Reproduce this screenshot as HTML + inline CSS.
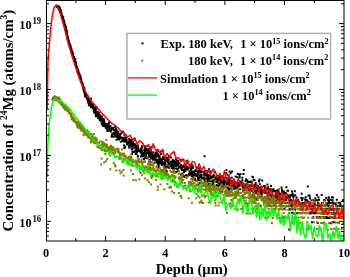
<!DOCTYPE html>
<html><head><meta charset="utf-8"><style>
html,body{margin:0;padding:0;background:#fff;width:350px;height:277px;overflow:hidden}
svg{display:block;will-change:transform}
</style></head><body>
<svg width="350" height="277" viewBox="0 0 350 277" xmlns="http://www.w3.org/2000/svg">

<defs><clipPath id="pc"><rect x="46" y="0" width="298" height="241"/></clipPath></defs>
<g clip-path="url(#pc)">
<g fill="#000"><path d="M56.1 5.3h2v2h-2zM56.1 5.9h2v2h-2zM56.1 4.7h2v2h-2zM56.2 5.1h2v2h-2zM56.5 5.9h2v2h-2zM57 6.4h2v2h-2zM57.1 5.5h2v2h-2zM57.2 5.7h2v2h-2zM57.5 5.7h2v2h-2zM57.6 6.3h2v2h-2zM57.6 5.6h2v2h-2zM57.8 6h2v2h-2zM57.9 8.8h2v2h-2zM57.9 6.8h2v2h-2zM58 7h2v2h-2zM58.3 8.4h2v2h-2zM58.5 8h2v2h-2zM58.6 9.1h2v2h-2zM58.7 6.4h2v2h-2zM58.8 8h2v2h-2zM59 7.8h2v2h-2zM59 10h2v2h-2zM59 9.1h2v2h-2zM59.1 10.2h2v2h-2zM59.1 9.4h2v2h-2zM59.2 9.8h2v2h-2zM59.2 10.3h2v2h-2zM59.4 11h2v2h-2zM59.4 11.5h2v2h-2zM59.5 10.5h2v2h-2zM59.5 9.9h2v2h-2zM59.8 10.3h2v2h-2zM60.1 11.8h2v2h-2zM60.2 12.6h2v2h-2zM60.3 13.3h2v2h-2zM60.6 13.6h2v2h-2zM60.7 13.9h2v2h-2zM61.1 14.5h2v2h-2zM61.2 17.2h2v2h-2zM61.3 15.9h2v2h-2zM61.4 15.8h2v2h-2zM61.6 17.3h2v2h-2zM61.6 18.1h2v2h-2zM61.6 16.2h2v2h-2zM62 19.6h2v2h-2zM62.1 18.9h2v2h-2zM62.2 18.5h2v2h-2zM62.3 19.7h2v2h-2zM62.5 19.6h2v2h-2zM62.6 21.2h2v2h-2zM63.3 21.4h2v2h-2zM63.6 23.8h2v2h-2zM63.7 23.1h2v2h-2zM63.8 23.9h2v2h-2zM64 24.6h2v2h-2zM64.1 25.3h2v2h-2zM64.3 26.5h2v2h-2zM64.3 25.8h2v2h-2zM64.4 26.8h2v2h-2zM64.5 25.4h2v2h-2zM64.6 27h2v2h-2zM64.6 27.5h2v2h-2zM64.9 27.6h2v2h-2zM65.1 29.3h2v2h-2zM65.3 29.5h2v2h-2zM65.4 29.7h2v2h-2zM65.5 32h2v2h-2zM65.7 31h2v2h-2zM65.8 31h2v2h-2zM65.8 32h2v2h-2zM65.9 33.5h2v2h-2zM66 31.8h2v2h-2zM66 33.8h2v2h-2zM66.2 33.2h2v2h-2zM66.7 36.6h2v2h-2zM66.8 38h2v2h-2zM66.9 36.3h2v2h-2zM66.9 37.8h2v2h-2zM67.2 39.4h2v2h-2zM67.3 39h2v2h-2zM67.4 40.1h2v2h-2zM67.5 39.5h2v2h-2zM67.6 39.6h2v2h-2zM67.8 41.2h2v2h-2zM67.9 41.1h2v2h-2zM68 42.1h2v2h-2zM68.1 41.6h2v2h-2zM68.6 43h2v2h-2zM68.7 42.4h2v2h-2zM68.8 44.5h2v2h-2zM68.8 45.5h2v2h-2zM68.9 45.2h2v2h-2zM68.9 44.9h2v2h-2zM69 46.9h2v2h-2zM69.1 45.3h2v2h-2zM69.2 44.6h2v2h-2zM69.5 47h2v2h-2zM69.6 46h2v2h-2zM70 47.7h2v2h-2zM70.1 48.2h2v2h-2zM70.1 49.1h2v2h-2zM70.5 49.7h2v2h-2zM70.6 49.3h2v2h-2zM70.8 51h2v2h-2zM70.9 51.7h2v2h-2zM70.9 50.5h2v2h-2zM70.9 50.4h2v2h-2zM71 51.4h2v2h-2zM71.1 52.4h2v2h-2zM71.5 52.4h2v2h-2zM71.7 54.5h2v2h-2zM71.8 52.5h2v2h-2zM72.2 55.6h2v2h-2zM72.3 55.8h2v2h-2zM72.8 56.1h2v2h-2zM73.2 57.4h2v2h-2zM73.4 59h2v2h-2zM73.4 59.2h2v2h-2zM73.5 59.6h2v2h-2zM73.7 59.6h2v2h-2zM74.2 62h2v2h-2zM74.3 60.7h2v2h-2zM74.4 61.2h2v2h-2zM74.4 63.3h2v2h-2zM74.6 62.3h2v2h-2zM74.7 62.9h2v2h-2zM75.1 64.2h2v2h-2zM75.2 64.8h2v2h-2zM75.8 65.8h2v2h-2zM75.9 67.2h2v2h-2zM77.1 70.2h2v2h-2zM77.4 71.7h2v2h-2zM77.5 70.7h2v2h-2zM77.5 72.6h2v2h-2zM77.5 71.7h2v2h-2zM77.6 72h2v2h-2zM78.1 73.6h2v2h-2zM78.1 72.7h2v2h-2zM78.3 74.8h2v2h-2zM78.3 74.3h2v2h-2zM78.3 73.5h2v2h-2zM78.7 74.5h2v2h-2zM78.7 75.3h2v2h-2zM78.8 76.2h2v2h-2zM79 76.8h2v2h-2zM79 76.8h2v2h-2zM79.5 77.3h2v2h-2zM79.7 77.7h2v2h-2zM79.9 79.7h2v2h-2zM80 79.2h2v2h-2zM80.1 78.3h2v2h-2zM80.1 78.2h2v2h-2zM80.3 79.3h2v2h-2zM80.6 81.9h2v2h-2zM81 82.8h2v2h-2zM81.1 83.3h2v2h-2zM81.3 83h2v2h-2zM81.3 83.1h2v2h-2zM81.7 83.7h2v2h-2zM81.8 85.7h2v2h-2zM82 84.6h2v2h-2zM82.5 86.2h2v2h-2zM82.6 88h2v2h-2zM83 89.8h2v2h-2zM83 88.9h2v2h-2zM83.1 88.8h2v2h-2zM83.5 88.1h2v2h-2zM83.7 91.8h2v2h-2zM83.7 91.8h2v2h-2zM83.7 91.1h2v2h-2zM84 94.2h2v2h-2zM84.1 95.2h2v2h-2zM84.2 93.2h2v2h-2zM84.4 92.8h2v2h-2zM84.4 94.9h2v2h-2zM84.5 93.6h2v2h-2zM84.5 92.1h2v2h-2zM84.6 95.6h2v2h-2zM84.9 94.6h2v2h-2zM85 94.4h2v2h-2zM85.4 96.1h2v2h-2zM86 97.5h2v2h-2zM86.2 97.6h2v2h-2zM86.4 97.8h2v2h-2zM86.7 98.4h2v2h-2zM86.8 99.9h2v2h-2zM87.2 97.6h2v2h-2zM87.2 101.4h2v2h-2zM87.4 101.2h2v2h-2zM87.8 102.7h2v2h-2zM87.9 104.3h2v2h-2zM87.9 102.3h2v2h-2zM88.1 101.6h2v2h-2zM88.2 101.4h2v2h-2zM88.4 99.8h2v2h-2zM88.5 99.3h2v2h-2zM88.5 100.1h2v2h-2zM88.8 104h2v2h-2zM88.9 100.7h2v2h-2zM89 103.7h2v2h-2zM89.1 99.9h2v2h-2zM89.4 101.4h2v2h-2zM89.9 104.4h2v2h-2zM89.9 104.1h2v2h-2zM90 97.8h2v2h-2zM90.1 106.3h2v2h-2zM90.5 106.3h2v2h-2zM90.5 104.4h2v2h-2zM90.6 102.8h2v2h-2zM90.8 104.6h2v2h-2zM92 106.9h2v2h-2zM92.2 103.9h2v2h-2zM92.5 106.8h2v2h-2zM92.6 107.2h2v2h-2zM92.7 106.4h2v2h-2zM92.8 109.5h2v2h-2zM92.9 106.9h2v2h-2zM93 109.1h2v2h-2zM93.1 111.5h2v2h-2zM93.2 106.3h2v2h-2zM93.6 110.4h2v2h-2zM93.8 107.2h2v2h-2zM93.9 110.6h2v2h-2zM94.3 107.7h2v2h-2zM94.6 111.3h2v2h-2zM94.6 112.3h2v2h-2zM94.7 109.5h2v2h-2zM94.8 113.1h2v2h-2zM94.9 115.3h2v2h-2zM94.9 114.5h2v2h-2zM95.1 112.2h2v2h-2zM95.2 114.2h2v2h-2zM95.5 105.9h2v2h-2zM95.6 112.1h2v2h-2zM96 107.2h2v2h-2zM96.3 113.9h2v2h-2zM96.4 113.9h2v2h-2zM96.5 115.6h2v2h-2zM96.6 113.4h2v2h-2zM96.7 112.8h2v2h-2zM96.8 110.7h2v2h-2zM96.8 112.9h2v2h-2zM96.9 114.3h2v2h-2zM97.3 116.9h2v2h-2zM97.8 112h2v2h-2zM97.9 117.3h2v2h-2zM97.9 114.4h2v2h-2zM98.3 117.2h2v2h-2zM98.7 116h2v2h-2zM98.7 114.4h2v2h-2zM98.8 113.8h2v2h-2zM98.8 118.9h2v2h-2zM98.8 115.4h2v2h-2zM99.2 116.9h2v2h-2zM99.4 117.5h2v2h-2zM99.8 115.2h2v2h-2zM100 118.7h2v2h-2zM100.1 119.8h2v2h-2zM100.5 119.2h2v2h-2zM100.5 120.4h2v2h-2zM100.6 119.1h2v2h-2zM100.8 122.8h2v2h-2zM100.8 115.4h2v2h-2zM101 123.2h2v2h-2zM101.1 117.7h2v2h-2zM101.2 117.9h2v2h-2zM101.4 118h2v2h-2zM101.9 123.9h2v2h-2zM101.9 119.2h2v2h-2zM102.1 123.7h2v2h-2zM102.1 119.8h2v2h-2zM102.2 125.1h2v2h-2zM102.4 121.7h2v2h-2zM102.6 121.1h2v2h-2zM102.7 121.1h2v2h-2zM102.7 118h2v2h-2zM102.7 119.5h2v2h-2zM103 119.8h2v2h-2zM103.1 119.7h2v2h-2zM103.1 123.9h2v2h-2zM103.2 125.1h2v2h-2zM103.6 125.3h2v2h-2zM103.6 121.5h2v2h-2zM103.8 123h2v2h-2zM103.8 123.2h2v2h-2zM104.7 123.6h2v2h-2zM104.8 124.6h2v2h-2zM104.8 125.6h2v2h-2zM104.9 127.1h2v2h-2zM105 123.5h2v2h-2zM105.1 123.2h2v2h-2zM105.5 126.4h2v2h-2zM105.7 126.1h2v2h-2zM106.3 128.7h2v2h-2zM106.5 130.1h2v2h-2zM106.6 129.6h2v2h-2zM106.7 123.1h2v2h-2zM106.8 124.4h2v2h-2zM106.9 126.6h2v2h-2zM107.3 125.9h2v2h-2zM107.6 126.4h2v2h-2zM107.7 123h2v2h-2zM107.7 124.5h2v2h-2zM108 127.7h2v2h-2zM108.1 121.5h2v2h-2zM108.3 129.6h2v2h-2zM108.7 126.1h2v2h-2zM109 125.3h2v2h-2zM109.2 128.9h2v2h-2zM109.6 128.8h2v2h-2zM109.6 125.2h2v2h-2zM109.9 130.1h2v2h-2zM109.9 130.6h2v2h-2zM110.2 128h2v2h-2zM110.6 135.4h2v2h-2zM110.7 135.8h2v2h-2zM110.8 127.3h2v2h-2zM111 135.7h2v2h-2zM111.1 133.5h2v2h-2zM111.3 128.2h2v2h-2zM111.5 127.2h2v2h-2zM111.8 132.8h2v2h-2zM112.3 126.9h2v2h-2zM112.8 131.9h2v2h-2zM112.8 135.4h2v2h-2zM112.9 129.3h2v2h-2zM113 132.7h2v2h-2zM113.3 132.7h2v2h-2zM113.4 131.8h2v2h-2zM113.6 132.5h2v2h-2zM113.9 125.4h2v2h-2zM114 134h2v2h-2zM114.2 132.9h2v2h-2zM114.5 129.4h2v2h-2zM114.5 132.7h2v2h-2zM114.6 134.1h2v2h-2zM114.7 131.3h2v2h-2zM114.8 127.4h2v2h-2zM114.8 131h2v2h-2zM114.9 135.5h2v2h-2zM115 128.9h2v2h-2zM115 133.5h2v2h-2zM115 130.4h2v2h-2zM115.2 132.7h2v2h-2zM115.4 131.3h2v2h-2zM115.6 138.8h2v2h-2zM115.8 129.5h2v2h-2zM116.2 133.8h2v2h-2zM116.2 136h2v2h-2zM116.2 134.1h2v2h-2zM116.3 133.2h2v2h-2zM116.3 132.8h2v2h-2zM116.6 134.6h2v2h-2zM117.1 137.6h2v2h-2zM117.2 133.3h2v2h-2zM117.3 130.8h2v2h-2zM117.5 137.9h2v2h-2zM117.9 136.1h2v2h-2zM117.9 134.3h2v2h-2zM118 138.5h2v2h-2zM118.2 136.3h2v2h-2zM118.2 136.1h2v2h-2zM118.5 133.2h2v2h-2zM118.5 135.3h2v2h-2zM118.7 137.4h2v2h-2zM119 136.7h2v2h-2zM119 134.5h2v2h-2zM119.3 137.5h2v2h-2zM119.8 132.8h2v2h-2zM119.9 140.8h2v2h-2zM120.5 136.5h2v2h-2zM121.2 139.8h2v2h-2zM121.3 136.8h2v2h-2zM121.4 131.4h2v2h-2zM121.6 139.9h2v2h-2zM121.6 137.6h2v2h-2zM122 139.2h2v2h-2zM122.7 140.6h2v2h-2zM122.9 136.7h2v2h-2zM123 140.4h2v2h-2zM123.1 138.1h2v2h-2zM123.1 144.2h2v2h-2zM123.2 137h2v2h-2zM123.2 137.2h2v2h-2zM123.3 140.6h2v2h-2zM123.3 146.9h2v2h-2zM123.4 133.7h2v2h-2zM123.7 145.6h2v2h-2zM123.8 140.1h2v2h-2zM123.9 140.2h2v2h-2zM124.1 146.3h2v2h-2zM124.2 136.9h2v2h-2zM124.5 136.5h2v2h-2zM124.5 139.3h2v2h-2zM124.7 137.6h2v2h-2zM124.9 140.5h2v2h-2zM124.9 139.8h2v2h-2zM124.9 134.3h2v2h-2zM125.5 138.9h2v2h-2zM125.7 141.5h2v2h-2zM125.7 136.6h2v2h-2zM126 143.5h2v2h-2zM126.3 141.9h2v2h-2zM126.6 141.3h2v2h-2zM127.4 142.2h2v2h-2zM127.5 140.7h2v2h-2zM127.9 144.6h2v2h-2zM127.9 140.2h2v2h-2zM128.3 138.1h2v2h-2zM128.3 146.5h2v2h-2zM128.3 146.7h2v2h-2zM128.4 146.2h2v2h-2zM129.1 139.8h2v2h-2zM129.2 141.4h2v2h-2zM129.3 143.3h2v2h-2zM129.6 144.2h2v2h-2zM129.7 144.2h2v2h-2zM129.8 141.1h2v2h-2zM130.2 142.5h2v2h-2zM130.2 140.6h2v2h-2zM130.5 139h2v2h-2zM130.5 145.6h2v2h-2zM130.7 148.3h2v2h-2zM130.8 143.9h2v2h-2zM131 153h2v2h-2zM131.3 150.7h2v2h-2zM131.4 142.8h2v2h-2zM131.4 142.9h2v2h-2zM131.4 142.6h2v2h-2zM131.6 145h2v2h-2zM131.6 145.7h2v2h-2zM131.7 147.1h2v2h-2zM131.8 147.2h2v2h-2zM131.9 145h2v2h-2zM131.9 140.9h2v2h-2zM132 144.1h2v2h-2zM132 145.1h2v2h-2zM132.1 144.1h2v2h-2zM132.2 144.8h2v2h-2zM132.2 142.9h2v2h-2zM132.2 142.8h2v2h-2zM132.4 151.1h2v2h-2zM132.8 143h2v2h-2zM133.6 139.1h2v2h-2zM133.7 149.8h2v2h-2zM133.7 143.8h2v2h-2zM133.8 144.1h2v2h-2zM133.9 143.3h2v2h-2zM133.9 138.1h2v2h-2zM133.9 150.5h2v2h-2zM134 143.8h2v2h-2zM134.1 146.7h2v2h-2zM134.1 150.8h2v2h-2zM134.4 150.3h2v2h-2zM134.5 144.3h2v2h-2zM134.6 146.2h2v2h-2zM134.7 153h2v2h-2zM134.8 147.3h2v2h-2zM135.2 147h2v2h-2zM135.4 147.4h2v2h-2zM135.4 148.8h2v2h-2zM135.5 152.9h2v2h-2zM135.7 145.9h2v2h-2zM135.9 147.1h2v2h-2zM136 145h2v2h-2zM136 150.4h2v2h-2zM136.1 151.2h2v2h-2zM136.2 147.8h2v2h-2zM136.5 145.2h2v2h-2zM136.6 148.3h2v2h-2zM136.7 149.7h2v2h-2zM136.8 145.7h2v2h-2zM136.8 155.1h2v2h-2zM136.9 144.6h2v2h-2zM137 148.1h2v2h-2zM137 146.4h2v2h-2zM137.1 146.7h2v2h-2zM137.3 148.4h2v2h-2zM138 149.9h2v2h-2zM138.5 149.7h2v2h-2zM139.4 150.9h2v2h-2zM139.8 151.6h2v2h-2zM139.8 148.1h2v2h-2zM139.9 155.4h2v2h-2zM139.9 150.7h2v2h-2zM139.9 150.1h2v2h-2zM140.1 148.5h2v2h-2zM140.1 150.8h2v2h-2zM140.2 150.5h2v2h-2zM140.3 151.6h2v2h-2zM140.4 147.4h2v2h-2zM140.7 152.8h2v2h-2zM140.8 147h2v2h-2zM140.9 145.2h2v2h-2zM141 153.9h2v2h-2zM141.1 150.1h2v2h-2zM141.4 154.5h2v2h-2zM141.8 151.7h2v2h-2zM142 155.3h2v2h-2zM142.2 155.3h2v2h-2zM142.2 155.1h2v2h-2zM142.3 152.2h2v2h-2zM142.6 155.2h2v2h-2zM142.9 158h2v2h-2zM143.2 154.1h2v2h-2zM143.2 148.8h2v2h-2zM143.4 145.5h2v2h-2zM143.5 160.4h2v2h-2zM143.8 150.2h2v2h-2zM143.9 150.3h2v2h-2zM144.1 156.8h2v2h-2zM144.1 152.4h2v2h-2zM144.2 149.9h2v2h-2zM144.2 147.1h2v2h-2zM144.4 150.6h2v2h-2zM144.5 153.6h2v2h-2zM144.6 152.1h2v2h-2zM144.7 154.6h2v2h-2zM144.9 153.8h2v2h-2zM144.9 154.1h2v2h-2zM145.2 148.1h2v2h-2zM145.6 148.4h2v2h-2zM145.7 149.1h2v2h-2zM145.9 157.2h2v2h-2zM145.9 151.9h2v2h-2zM146.1 156.1h2v2h-2zM146.1 151.5h2v2h-2zM146.3 157.3h2v2h-2zM146.4 148.8h2v2h-2zM146.4 145h2v2h-2zM146.5 157h2v2h-2zM146.8 148.5h2v2h-2zM147.2 149.1h2v2h-2zM147.2 152.4h2v2h-2zM147.2 150.8h2v2h-2zM147.6 156h2v2h-2zM147.9 149.8h2v2h-2zM148 155.3h2v2h-2zM148 151.6h2v2h-2zM148.1 154.4h2v2h-2zM148.3 147.4h2v2h-2zM148.5 159.2h2v2h-2zM148.5 152.2h2v2h-2zM148.6 151.9h2v2h-2zM148.8 149.9h2v2h-2zM148.8 154.5h2v2h-2zM148.8 158.7h2v2h-2zM149 151.7h2v2h-2zM149 155.5h2v2h-2zM149.2 150.4h2v2h-2zM149.2 154.2h2v2h-2zM149.3 167h2v2h-2zM149.4 161h2v2h-2zM149.7 153.6h2v2h-2zM149.8 149.3h2v2h-2zM149.9 152.1h2v2h-2zM150 151.3h2v2h-2zM150.1 156.8h2v2h-2zM150.4 153.7h2v2h-2zM150.5 146.2h2v2h-2zM150.8 156.1h2v2h-2zM151.1 152.6h2v2h-2zM151.1 155.9h2v2h-2zM151.5 157.9h2v2h-2zM151.5 157.4h2v2h-2zM151.8 154.3h2v2h-2zM152 156.8h2v2h-2zM152.1 158.7h2v2h-2zM152.3 151.3h2v2h-2zM152.8 155.1h2v2h-2zM152.9 154.9h2v2h-2zM153.2 156.4h2v2h-2zM153.4 157.1h2v2h-2zM153.5 153.8h2v2h-2zM153.7 161.4h2v2h-2zM153.7 158.4h2v2h-2zM154 155.5h2v2h-2zM154.3 157.1h2v2h-2zM154.5 152.6h2v2h-2zM154.5 155.7h2v2h-2zM154.8 159h2v2h-2zM154.9 153.1h2v2h-2zM155 152.1h2v2h-2zM155.3 159.6h2v2h-2zM155.5 151.2h2v2h-2zM155.5 158.7h2v2h-2zM155.5 155.8h2v2h-2zM155.6 153.9h2v2h-2zM155.7 155.5h2v2h-2zM155.9 160.5h2v2h-2zM156 161.1h2v2h-2zM156.1 161.2h2v2h-2zM156.3 149.6h2v2h-2zM156.3 159h2v2h-2zM156.3 152.4h2v2h-2zM156.5 162.1h2v2h-2zM156.7 153.1h2v2h-2zM156.8 154.6h2v2h-2zM156.9 149.1h2v2h-2zM157 160.4h2v2h-2zM157.1 161h2v2h-2zM157.2 154.1h2v2h-2zM157.2 163.4h2v2h-2zM157.6 166.3h2v2h-2zM157.6 160.7h2v2h-2zM157.7 164.8h2v2h-2zM157.9 158.7h2v2h-2zM158.1 156.5h2v2h-2zM158.5 160.8h2v2h-2zM158.5 154.8h2v2h-2zM158.6 156.6h2v2h-2zM158.7 162.5h2v2h-2zM158.7 161.1h2v2h-2zM159.2 157.9h2v2h-2zM159.5 159.9h2v2h-2zM159.5 150.6h2v2h-2zM159.5 162h2v2h-2zM159.6 158.5h2v2h-2zM160 158.6h2v2h-2zM160 153.1h2v2h-2zM160.5 152.9h2v2h-2zM160.7 164.2h2v2h-2zM160.7 159.2h2v2h-2zM160.8 159.4h2v2h-2zM161 163.5h2v2h-2zM161.5 161.2h2v2h-2zM161.6 158.1h2v2h-2zM161.8 157.5h2v2h-2zM161.9 156h2v2h-2zM161.9 161.6h2v2h-2zM162.1 158.2h2v2h-2zM162.1 158.1h2v2h-2zM162.2 150.2h2v2h-2zM162.5 157.7h2v2h-2zM162.9 166.2h2v2h-2zM163.1 157h2v2h-2zM163.2 163.5h2v2h-2zM163.3 162.8h2v2h-2zM163.7 164.1h2v2h-2zM163.8 159.2h2v2h-2zM163.9 159.7h2v2h-2zM163.9 159.2h2v2h-2zM163.9 162h2v2h-2zM163.9 165.2h2v2h-2zM164.2 156h2v2h-2zM164.2 165.7h2v2h-2zM164.3 165h2v2h-2zM164.4 163.2h2v2h-2zM164.6 166.2h2v2h-2zM164.7 168.6h2v2h-2zM165.2 171.8h2v2h-2zM165.3 166.2h2v2h-2zM165.4 157h2v2h-2zM165.6 157.3h2v2h-2zM165.6 169.9h2v2h-2zM165.7 160.3h2v2h-2zM165.9 157.7h2v2h-2zM166 165.4h2v2h-2zM166.6 164.3h2v2h-2zM166.8 158.2h2v2h-2zM166.9 161h2v2h-2zM167.1 159.2h2v2h-2zM167.1 161.4h2v2h-2zM167.1 164.1h2v2h-2zM167.4 165.8h2v2h-2zM167.6 164h2v2h-2zM167.6 155.9h2v2h-2zM167.7 158.6h2v2h-2zM167.8 165h2v2h-2zM167.8 166.7h2v2h-2zM167.9 163h2v2h-2zM168.8 165h2v2h-2zM169.1 162.5h2v2h-2zM169.4 160.8h2v2h-2zM169.5 162h2v2h-2zM169.6 162.8h2v2h-2zM169.8 163.9h2v2h-2zM170 156.5h2v2h-2zM170 163.5h2v2h-2zM170.1 165h2v2h-2zM170.4 160.5h2v2h-2zM170.6 171h2v2h-2zM170.6 166.9h2v2h-2zM170.8 163.5h2v2h-2zM171.7 164.8h2v2h-2zM171.7 161h2v2h-2zM171.8 158.8h2v2h-2zM172 169.5h2v2h-2zM172.3 160.7h2v2h-2zM172.3 167h2v2h-2zM172.3 163.1h2v2h-2zM172.4 165.8h2v2h-2zM172.4 167.8h2v2h-2zM172.9 167.3h2v2h-2zM172.9 162.8h2v2h-2zM173 163.2h2v2h-2zM173.3 159.9h2v2h-2zM173.5 170.9h2v2h-2zM173.7 164.7h2v2h-2zM173.8 160.7h2v2h-2zM174.1 160.8h2v2h-2zM174.2 161.3h2v2h-2zM174.5 167.4h2v2h-2zM174.8 164.8h2v2h-2zM174.8 162.4h2v2h-2zM174.8 158.2h2v2h-2zM175.1 161.6h2v2h-2zM175.2 164.9h2v2h-2zM175.5 170.9h2v2h-2zM175.5 163.2h2v2h-2zM175.5 162.1h2v2h-2zM175.9 162.9h2v2h-2zM176.2 159.5h2v2h-2zM176.2 164h2v2h-2zM176.3 167.6h2v2h-2zM176.6 167.4h2v2h-2zM176.7 169.1h2v2h-2zM176.9 161.9h2v2h-2zM176.9 164h2v2h-2zM177.1 160h2v2h-2zM177.1 167.5h2v2h-2zM177.4 169.9h2v2h-2zM177.5 164.6h2v2h-2zM177.9 165.6h2v2h-2zM178.4 176.4h2v2h-2zM178.4 162.2h2v2h-2zM179.1 166.4h2v2h-2zM179.9 159.1h2v2h-2zM180.2 164.1h2v2h-2zM180.2 164.7h2v2h-2zM180.3 173.9h2v2h-2zM180.4 167.3h2v2h-2zM180.4 165.5h2v2h-2zM180.6 168h2v2h-2zM180.6 166.4h2v2h-2zM180.9 169.1h2v2h-2zM180.9 168.2h2v2h-2zM181.2 172.8h2v2h-2zM181.3 165.3h2v2h-2zM181.4 173h2v2h-2zM181.8 165.8h2v2h-2zM182 166.2h2v2h-2zM182 169.1h2v2h-2zM182.4 159h2v2h-2zM182.5 169h2v2h-2zM182.6 175.5h2v2h-2zM182.7 174.7h2v2h-2zM182.8 170.4h2v2h-2zM182.8 165.6h2v2h-2zM183.1 171h2v2h-2zM183.3 170.1h2v2h-2zM183.3 164.1h2v2h-2zM183.6 165.9h2v2h-2zM183.9 176h2v2h-2zM184.2 167.9h2v2h-2zM184.4 169.9h2v2h-2zM184.6 163.9h2v2h-2zM184.9 174.3h2v2h-2zM185.5 159.9h2v2h-2zM185.7 167.6h2v2h-2zM186 174.6h2v2h-2zM186 165.7h2v2h-2zM186.1 168.1h2v2h-2zM186.7 161.8h2v2h-2zM186.8 168.5h2v2h-2zM186.9 168.3h2v2h-2zM187.3 167.2h2v2h-2zM187.6 174.1h2v2h-2zM188.1 172.9h2v2h-2zM188.2 174.1h2v2h-2zM188.5 164.9h2v2h-2zM188.6 172.1h2v2h-2zM188.7 170.3h2v2h-2zM189 166.1h2v2h-2zM189.3 166.5h2v2h-2zM189.5 166.8h2v2h-2zM189.6 170.6h2v2h-2zM189.9 169.7h2v2h-2zM190.1 173.2h2v2h-2zM190.1 168.1h2v2h-2zM190.2 163.5h2v2h-2zM190.2 171.7h2v2h-2zM190.3 173.1h2v2h-2zM190.4 163.9h2v2h-2zM190.5 166.5h2v2h-2zM190.6 163.5h2v2h-2zM190.6 167.4h2v2h-2zM190.7 174.9h2v2h-2zM191 175h2v2h-2zM191.2 164.7h2v2h-2zM191.3 173.1h2v2h-2zM191.4 174.7h2v2h-2zM191.6 171h2v2h-2zM191.8 173.6h2v2h-2zM191.8 166.9h2v2h-2zM191.9 165.5h2v2h-2zM192 175h2v2h-2zM192 173.6h2v2h-2zM192.1 176.8h2v2h-2zM192.2 178.3h2v2h-2zM192.3 170.5h2v2h-2zM193.1 171.1h2v2h-2zM193.1 171.2h2v2h-2zM193.2 174.1h2v2h-2zM193.6 170.3h2v2h-2zM193.8 178.9h2v2h-2zM193.9 172.9h2v2h-2zM194.1 177.8h2v2h-2zM194.2 174.1h2v2h-2zM194.5 174.7h2v2h-2zM194.7 169h2v2h-2zM195.4 170.6h2v2h-2zM195.4 173.9h2v2h-2zM195.4 179.7h2v2h-2zM195.6 166.5h2v2h-2zM196.3 175h2v2h-2zM196.3 173.1h2v2h-2zM196.6 173.2h2v2h-2zM196.8 170.3h2v2h-2zM196.8 188.6h2v2h-2zM197 176.8h2v2h-2zM197.1 173.7h2v2h-2zM197.1 177.8h2v2h-2zM197.1 171.2h2v2h-2zM197.2 176.4h2v2h-2zM197.4 183.7h2v2h-2zM197.4 178.9h2v2h-2zM197.6 176.4h2v2h-2zM197.8 177.1h2v2h-2zM197.9 170.2h2v2h-2zM197.9 167.3h2v2h-2zM198.4 169.5h2v2h-2zM198.5 179.3h2v2h-2zM198.8 182h2v2h-2zM198.9 169.8h2v2h-2zM199 174.2h2v2h-2zM199.1 176h2v2h-2zM199.2 175.9h2v2h-2zM199.2 176.1h2v2h-2zM199.3 171.8h2v2h-2zM199.4 175h2v2h-2zM199.8 171.8h2v2h-2zM200.2 175.2h2v2h-2zM200.2 178.9h2v2h-2zM200.3 170.8h2v2h-2zM200.3 173.9h2v2h-2zM200.6 177.2h2v2h-2zM201.7 174.8h2v2h-2zM201.8 176.3h2v2h-2zM201.9 174.5h2v2h-2zM202.1 177.2h2v2h-2zM202.4 170.7h2v2h-2zM202.8 177.2h2v2h-2zM203.1 172h2v2h-2zM203.2 173h2v2h-2zM203.3 177.8h2v2h-2zM203.5 179.2h2v2h-2zM203.6 155.2h2v2h-2zM203.8 172.9h2v2h-2zM203.9 176.1h2v2h-2zM204 174.5h2v2h-2zM204.1 180.4h2v2h-2zM204.3 170.1h2v2h-2zM204.4 176.9h2v2h-2zM204.5 176.4h2v2h-2zM204.6 175.9h2v2h-2zM204.7 176.3h2v2h-2zM204.9 188.2h2v2h-2zM205 183.4h2v2h-2zM205.2 184.9h2v2h-2zM205.5 174.8h2v2h-2zM205.6 177.9h2v2h-2zM205.6 172.5h2v2h-2zM205.7 172.7h2v2h-2zM205.9 180.7h2v2h-2zM206.4 170h2v2h-2zM206.5 174h2v2h-2zM206.6 176.6h2v2h-2zM206.6 177.2h2v2h-2zM207 170.5h2v2h-2zM207.1 179.2h2v2h-2zM207.1 177.3h2v2h-2zM207.2 178.2h2v2h-2zM207.3 178h2v2h-2zM207.3 179.7h2v2h-2zM207.4 176.2h2v2h-2zM207.4 184.1h2v2h-2zM207.6 175.1h2v2h-2zM207.8 182.5h2v2h-2zM207.9 168.2h2v2h-2zM208 174.3h2v2h-2zM208.3 177.9h2v2h-2zM208.5 177.3h2v2h-2zM208.7 174.2h2v2h-2zM208.8 174.2h2v2h-2zM208.8 179.7h2v2h-2zM208.9 177.7h2v2h-2zM209.1 186.4h2v2h-2zM209.2 183.4h2v2h-2zM209.3 177.1h2v2h-2zM209.3 177.6h2v2h-2zM209.8 170.4h2v2h-2zM209.9 183.2h2v2h-2zM210 177.7h2v2h-2zM210.1 176h2v2h-2zM210.1 179.9h2v2h-2zM210.7 183.7h2v2h-2zM210.9 175.6h2v2h-2zM210.9 183.7h2v2h-2zM211.2 179.8h2v2h-2zM211.3 176.6h2v2h-2zM212 179.9h2v2h-2zM212 182.1h2v2h-2zM212 182.5h2v2h-2zM212.3 176.1h2v2h-2zM212.5 174.1h2v2h-2zM213.1 184.7h2v2h-2zM213.2 174.8h2v2h-2zM213.4 171.2h2v2h-2zM213.5 178.5h2v2h-2zM213.5 181.2h2v2h-2zM213.7 179.5h2v2h-2zM214.7 177.3h2v2h-2zM214.7 177h2v2h-2zM214.8 180.9h2v2h-2zM215 181h2v2h-2zM215 176.6h2v2h-2zM215.4 178.9h2v2h-2zM215.5 177.7h2v2h-2zM215.6 179.4h2v2h-2zM215.6 179.7h2v2h-2zM215.7 179.4h2v2h-2zM215.7 184.1h2v2h-2zM216.3 194.9h2v2h-2zM216.3 179.7h2v2h-2zM216.4 177.5h2v2h-2zM216.7 184.9h2v2h-2zM216.7 177.7h2v2h-2zM216.7 175.9h2v2h-2zM216.9 178.1h2v2h-2zM216.9 174.9h2v2h-2zM217 176.8h2v2h-2zM217 180.7h2v2h-2zM217.2 180.8h2v2h-2zM217.4 181.7h2v2h-2zM217.5 176.9h2v2h-2zM217.6 182h2v2h-2zM217.8 184.6h2v2h-2zM217.9 188.7h2v2h-2zM218.2 179.5h2v2h-2zM218.5 176.2h2v2h-2zM218.5 183.7h2v2h-2zM218.6 181.1h2v2h-2zM218.6 175.8h2v2h-2zM218.6 187.9h2v2h-2zM218.6 181.5h2v2h-2zM218.8 178.6h2v2h-2zM219 189.8h2v2h-2zM219 175.7h2v2h-2zM219.5 180.5h2v2h-2zM219.5 189.9h2v2h-2zM219.5 177.9h2v2h-2zM219.8 178.4h2v2h-2zM220.1 182.1h2v2h-2zM220.1 189h2v2h-2zM220.4 186.2h2v2h-2zM220.6 177h2v2h-2zM220.6 183.2h2v2h-2zM220.9 175.2h2v2h-2zM221.3 190.7h2v2h-2zM221.4 179.7h2v2h-2zM221.5 180.6h2v2h-2zM221.7 181.8h2v2h-2zM221.8 187.3h2v2h-2zM222 185.2h2v2h-2zM222.1 180.4h2v2h-2zM222.3 181.7h2v2h-2zM222.9 179h2v2h-2zM222.9 176.8h2v2h-2zM223.1 183h2v2h-2zM223.3 180.8h2v2h-2zM223.4 185.2h2v2h-2zM223.6 186.5h2v2h-2zM223.7 180.9h2v2h-2zM224.9 190.1h2v2h-2zM225.1 185.1h2v2h-2zM225.2 180.2h2v2h-2zM225.2 176.8h2v2h-2zM225.2 171.9h2v2h-2zM225.5 182.2h2v2h-2zM225.5 169.1h2v2h-2zM225.6 184h2v2h-2zM225.8 180.1h2v2h-2zM226.3 186.2h2v2h-2zM226.4 180.3h2v2h-2zM226.4 173.8h2v2h-2zM226.4 182.2h2v2h-2zM226.5 179.8h2v2h-2zM226.6 183.1h2v2h-2zM226.7 187h2v2h-2zM226.8 180.2h2v2h-2zM227 182.2h2v2h-2zM227 177.3h2v2h-2zM227 178.7h2v2h-2zM227.4 177.7h2v2h-2zM227.7 188.5h2v2h-2zM227.7 190.8h2v2h-2zM228 177.3h2v2h-2zM228.2 178.2h2v2h-2zM228.3 183.6h2v2h-2zM228.4 183.7h2v2h-2zM228.6 170.6h2v2h-2zM228.6 187.2h2v2h-2zM228.6 188.5h2v2h-2zM228.8 180.6h2v2h-2zM228.9 179.1h2v2h-2zM229 178.3h2v2h-2zM229.1 182.2h2v2h-2zM229.1 179.7h2v2h-2zM229.6 185.3h2v2h-2zM229.7 172.3h2v2h-2zM229.8 186.6h2v2h-2zM230.4 194h2v2h-2zM230.5 180.9h2v2h-2zM230.6 179.7h2v2h-2zM230.6 182h2v2h-2zM230.7 179.8h2v2h-2zM230.7 176.7h2v2h-2zM231.1 188.6h2v2h-2zM231.1 170.6h2v2h-2zM231.3 181.7h2v2h-2zM231.5 185.5h2v2h-2zM231.6 183.9h2v2h-2zM232.2 181.8h2v2h-2zM232.9 185.5h2v2h-2zM233.1 193.8h2v2h-2zM233.1 188h2v2h-2zM233.1 178.8h2v2h-2zM233.5 183.4h2v2h-2zM233.7 185.4h2v2h-2zM233.8 183.2h2v2h-2zM233.8 182.7h2v2h-2zM233.9 182.2h2v2h-2zM233.9 180.9h2v2h-2zM233.9 187.2h2v2h-2zM234 184.9h2v2h-2zM234.6 175.6h2v2h-2zM234.7 182.6h2v2h-2zM234.7 183.9h2v2h-2zM234.7 186.7h2v2h-2zM235.3 194.1h2v2h-2zM235.5 183.6h2v2h-2zM235.5 183.4h2v2h-2zM235.7 190.9h2v2h-2zM235.7 185.3h2v2h-2zM236.1 187h2v2h-2zM236.2 176.3h2v2h-2zM236.3 183.2h2v2h-2zM236.5 182h2v2h-2zM236.5 184.6h2v2h-2zM236.7 192.4h2v2h-2zM236.7 192.2h2v2h-2zM236.8 173h2v2h-2zM236.9 182.1h2v2h-2zM237.4 188.4h2v2h-2zM237.6 185.6h2v2h-2zM237.8 185.2h2v2h-2zM238.2 173.6h2v2h-2zM238.3 184.1h2v2h-2zM238.6 176.4h2v2h-2zM238.7 175.2h2v2h-2zM238.8 183.4h2v2h-2zM238.9 188.2h2v2h-2zM239.4 180.8h2v2h-2zM239.5 172.9h2v2h-2zM240.4 180.9h2v2h-2zM240.6 183.4h2v2h-2zM240.7 181.5h2v2h-2zM240.7 182h2v2h-2zM240.8 183.9h2v2h-2zM241.1 184.9h2v2h-2zM241.2 194.9h2v2h-2zM241.2 182.4h2v2h-2zM241.3 179.2h2v2h-2zM241.3 176.7h2v2h-2zM241.5 185.6h2v2h-2zM241.7 182.5h2v2h-2zM241.9 187.1h2v2h-2zM242 185.2h2v2h-2zM242 188.8h2v2h-2zM242.5 190.1h2v2h-2zM242.5 173h2v2h-2zM242.6 183h2v2h-2zM242.7 188.3h2v2h-2zM242.8 188h2v2h-2zM242.8 168.9h2v2h-2zM243 188.3h2v2h-2zM243.5 184.9h2v2h-2zM243.8 185h2v2h-2zM243.8 185.2h2v2h-2zM244.2 192.4h2v2h-2zM244.3 192.3h2v2h-2zM244.4 180.3h2v2h-2zM245 185.3h2v2h-2zM245.1 178.3h2v2h-2zM245.2 187.3h2v2h-2zM245.3 183.3h2v2h-2zM245.4 183.9h2v2h-2zM245.5 186.8h2v2h-2zM245.7 179.3h2v2h-2zM245.9 191.8h2v2h-2zM245.9 186.8h2v2h-2zM246.4 179.7h2v2h-2zM246.5 186.3h2v2h-2zM246.8 181.2h2v2h-2zM247.1 192.1h2v2h-2zM247.3 188.5h2v2h-2zM247.6 189h2v2h-2zM248.1 184.6h2v2h-2zM248.7 181h2v2h-2zM248.7 185.2h2v2h-2zM248.7 190.7h2v2h-2zM248.8 199.6h2v2h-2zM248.9 190.6h2v2h-2zM249.2 180.7h2v2h-2zM249.2 190.8h2v2h-2zM249.4 187.9h2v2h-2zM249.6 181.2h2v2h-2zM249.7 194.5h2v2h-2zM249.9 188.6h2v2h-2zM250.1 180.6h2v2h-2zM250.2 199.4h2v2h-2zM250.2 190.1h2v2h-2zM250.2 183.9h2v2h-2zM250.4 188.9h2v2h-2zM250.7 180.8h2v2h-2zM250.7 189.9h2v2h-2zM250.7 201.4h2v2h-2zM251 183.1h2v2h-2zM251.1 185.2h2v2h-2zM251.4 175.8h2v2h-2zM251.4 194h2v2h-2zM251.4 188.6h2v2h-2zM251.6 188h2v2h-2zM252.1 176.3h2v2h-2zM252.4 191.8h2v2h-2zM252.6 178.7h2v2h-2zM252.9 184.8h2v2h-2zM253 188.3h2v2h-2zM253.1 187.1h2v2h-2zM253.1 196.2h2v2h-2zM253.4 186.9h2v2h-2zM253.6 192.4h2v2h-2zM253.6 179.3h2v2h-2zM253.6 185.2h2v2h-2zM254 183.9h2v2h-2zM254 190.4h2v2h-2zM254.1 186.5h2v2h-2zM254.1 196.3h2v2h-2zM254.1 186.5h2v2h-2zM254.3 186.9h2v2h-2zM254.3 196.7h2v2h-2zM254.3 185.4h2v2h-2zM254.4 187.3h2v2h-2zM254.6 181.9h2v2h-2zM254.9 188.5h2v2h-2zM254.9 196.8h2v2h-2zM254.9 188.2h2v2h-2zM255 189h2v2h-2zM255.1 186.5h2v2h-2zM255.1 190.1h2v2h-2zM255.4 198.8h2v2h-2zM255.6 190.6h2v2h-2zM255.7 191.8h2v2h-2zM255.9 186.9h2v2h-2zM256 190.2h2v2h-2zM256 187.3h2v2h-2zM256.2 192.5h2v2h-2zM256.3 188.8h2v2h-2zM256.4 205.5h2v2h-2zM256.7 186.5h2v2h-2zM256.8 184.9h2v2h-2zM257.1 187.3h2v2h-2zM257.3 190.6h2v2h-2zM257.3 192.7h2v2h-2zM257.5 192.5h2v2h-2zM257.6 196.8h2v2h-2zM257.6 192.9h2v2h-2zM257.8 180.6h2v2h-2zM257.8 192.5h2v2h-2zM258 180.3h2v2h-2zM258 186.4h2v2h-2zM258.2 192.1h2v2h-2zM258.5 178.6h2v2h-2zM258.9 183.3h2v2h-2zM259 188.3h2v2h-2zM259.3 190h2v2h-2zM259.6 204.7h2v2h-2zM259.8 190.2h2v2h-2zM259.8 192.1h2v2h-2zM260 190.4h2v2h-2zM260.1 186.2h2v2h-2zM260.1 188h2v2h-2zM260.1 196.3h2v2h-2zM260.2 191.8h2v2h-2zM260.3 192.9h2v2h-2zM260.4 191.9h2v2h-2zM260.4 189.9h2v2h-2zM260.4 196.5h2v2h-2zM260.6 193.9h2v2h-2zM260.9 193.9h2v2h-2zM260.9 191.8h2v2h-2zM261 194.4h2v2h-2zM261 194h2v2h-2zM261 186.4h2v2h-2zM261.2 179.4h2v2h-2zM262.4 190.2h2v2h-2zM262.9 201.6h2v2h-2zM262.9 185h2v2h-2zM263 196.7h2v2h-2zM263.2 197.2h2v2h-2zM263.3 197.1h2v2h-2zM263.5 188.9h2v2h-2zM263.5 188.8h2v2h-2zM263.7 197h2v2h-2zM263.8 186.8h2v2h-2zM264.1 191.7h2v2h-2zM264.2 185.3h2v2h-2zM264.3 196.8h2v2h-2zM264.4 188.9h2v2h-2zM264.5 196.1h2v2h-2zM264.6 199.6h2v2h-2zM264.6 190.8h2v2h-2zM266 192.3h2v2h-2zM266.2 197h2v2h-2zM266.4 183.5h2v2h-2zM266.6 194.4h2v2h-2zM266.8 188.3h2v2h-2zM266.9 194.4h2v2h-2zM267 204.4h2v2h-2zM267.1 197.1h2v2h-2zM267.1 186.2h2v2h-2zM267.2 192.4h2v2h-2zM267.2 199h2v2h-2zM267.7 199h2v2h-2zM267.8 194.1h2v2h-2zM267.9 192.3h2v2h-2zM267.9 197h2v2h-2zM268.1 190.5h2v2h-2zM268.4 192.7h2v2h-2zM268.7 189.9h2v2h-2zM268.7 198.8h2v2h-2zM268.7 202.4h2v2h-2zM268.9 198.8h2v2h-2zM269.2 188h2v2h-2zM269.2 194.4h2v2h-2zM269.5 205h2v2h-2zM269.8 199.4h2v2h-2zM270 194.1h2v2h-2zM270 185.1h2v2h-2zM270.2 194.5h2v2h-2zM270.6 188.6h2v2h-2zM270.7 190.9h2v2h-2zM271 201.8h2v2h-2zM271.1 196.6h2v2h-2zM271.2 199h2v2h-2zM271.3 199.7h2v2h-2zM272 190.6h2v2h-2zM272 196.4h2v2h-2zM272.1 199.3h2v2h-2zM272.2 194h2v2h-2zM272.4 196.5h2v2h-2zM272.5 190.5h2v2h-2zM272.5 188.2h2v2h-2zM272.7 202.5h2v2h-2zM272.7 194.9h2v2h-2zM273.6 190h2v2h-2zM273.8 198.7h2v2h-2zM273.8 204.7h2v2h-2zM273.8 199.5h2v2h-2zM274.3 199.8h2v2h-2zM274.7 190.3h2v2h-2zM274.9 204.8h2v2h-2zM274.9 196.5h2v2h-2zM275 205.2h2v2h-2zM275.1 192.6h2v2h-2zM275.2 191.8h2v2h-2zM275.3 194.7h2v2h-2zM275.3 192.6h2v2h-2zM275.4 205.5h2v2h-2zM275.5 202.1h2v2h-2zM275.6 194.2h2v2h-2zM275.6 189.9h2v2h-2zM276.2 199.2h2v2h-2zM276.3 192.1h2v2h-2zM276.6 196.5h2v2h-2zM276.6 189h2v2h-2zM276.7 196.8h2v2h-2zM276.9 199.5h2v2h-2zM277 190.9h2v2h-2zM277.2 194.5h2v2h-2zM277.3 192.3h2v2h-2zM277.4 198.8h2v2h-2zM277.5 190.2h2v2h-2zM277.6 201.8h2v2h-2zM277.8 194.1h2v2h-2zM277.8 208.4h2v2h-2zM277.9 192.4h2v2h-2zM278 201.7h2v2h-2zM278.4 199.4h2v2h-2zM278.4 198.7h2v2h-2zM278.6 196.5h2v2h-2zM278.6 196.7h2v2h-2zM278.6 196.6h2v2h-2zM278.6 194.8h2v2h-2zM278.7 202.3h2v2h-2zM278.7 196.8h2v2h-2zM278.8 199.5h2v2h-2zM279.6 205.4h2v2h-2zM279.6 192.8h2v2h-2zM279.6 202.4h2v2h-2zM279.7 204.6h2v2h-2zM280.5 199.4h2v2h-2zM280.5 186.5h2v2h-2zM280.5 204.6h2v2h-2zM280.7 197.2h2v2h-2zM280.7 199.2h2v2h-2zM280.8 199.4h2v2h-2zM280.9 188.7h2v2h-2zM281 189.9h2v2h-2zM281.1 199.1h2v2h-2zM281.4 201.7h2v2h-2zM281.5 201.6h2v2h-2zM281.5 191.8h2v2h-2zM281.6 205.2h2v2h-2zM281.7 190.3h2v2h-2zM281.9 196.5h2v2h-2zM282 193.9h2v2h-2zM282 192.6h2v2h-2zM282.5 198.6h2v2h-2zM282.6 199h2v2h-2zM282.7 196.2h2v2h-2zM282.8 216.5h2v2h-2zM282.8 190.6h2v2h-2zM282.8 201.5h2v2h-2zM283.1 193.8h2v2h-2zM283.2 208h2v2h-2zM283.8 196.7h2v2h-2zM283.8 192h2v2h-2zM284.1 196.6h2v2h-2zM284.1 196.3h2v2h-2zM284.2 192h2v2h-2zM284.3 199.3h2v2h-2zM284.4 205.5h2v2h-2zM284.4 202.2h2v2h-2zM284.5 205.3h2v2h-2zM284.5 191.9h2v2h-2zM284.6 199.2h2v2h-2zM284.7 196.3h2v2h-2zM284.7 199.1h2v2h-2zM285 205h2v2h-2zM285.1 198.9h2v2h-2zM285.4 186.3h2v2h-2zM285.5 196.8h2v2h-2zM285.6 194.2h2v2h-2zM286.4 189.8h2v2h-2zM286.7 201.8h2v2h-2zM287.1 189.8h2v2h-2zM287.3 205.3h2v2h-2zM287.6 194.8h2v2h-2zM287.6 196.8h2v2h-2zM287.6 194.6h2v2h-2zM287.8 202.3h2v2h-2zM288 212h2v2h-2zM288.1 204.9h2v2h-2zM288.2 228.4h2v2h-2zM288.2 196.8h2v2h-2zM288.3 201.9h2v2h-2zM288.6 208.5h2v2h-2zM288.6 208.2h2v2h-2zM288.9 196.2h2v2h-2zM289 199.2h2v2h-2zM289.1 194.5h2v2h-2zM289.4 207.8h2v2h-2zM289.6 208.5h2v2h-2zM289.6 204.5h2v2h-2zM289.9 198.8h2v2h-2zM290.3 194.3h2v2h-2zM290.3 193.9h2v2h-2zM290.3 204.6h2v2h-2zM290.6 202h2v2h-2zM290.7 199.6h2v2h-2zM290.8 211.8h2v2h-2zM290.9 202.5h2v2h-2zM291 205.4h2v2h-2zM291 190.5h2v2h-2zM291.2 202.5h2v2h-2zM291.3 205.2h2v2h-2zM291.4 205.4h2v2h-2zM291.6 192.8h2v2h-2zM291.6 194.7h2v2h-2zM291.6 208.3h2v2h-2zM291.7 201.8h2v2h-2zM292.2 208h2v2h-2zM292.3 202.4h2v2h-2zM292.4 196.6h2v2h-2zM292.4 208.3h2v2h-2zM292.8 204.8h2v2h-2zM292.9 212.6h2v2h-2zM293 204.7h2v2h-2zM293.1 194.6h2v2h-2zM293.3 204.5h2v2h-2zM293.8 190.3h2v2h-2zM293.8 205.5h2v2h-2zM293.9 204.7h2v2h-2zM294.2 208.4h2v2h-2zM294.3 194.2h2v2h-2zM294.7 201.4h2v2h-2zM294.7 205.1h2v2h-2zM295 201.5h2v2h-2zM295.1 198.9h2v2h-2zM295.5 196.4h2v2h-2zM295.7 201.9h2v2h-2zM295.7 199.8h2v2h-2zM295.8 205.2h2v2h-2zM296 212.2h2v2h-2zM296.1 198.7h2v2h-2zM296.8 204.6h2v2h-2zM297.1 199.4h2v2h-2zM297.6 201.7h2v2h-2zM297.8 204.9h2v2h-2zM297.9 202.4h2v2h-2zM298 212h2v2h-2zM298.5 205.3h2v2h-2zM299 205.3h2v2h-2zM299.3 202.2h2v2h-2zM299.4 208.7h2v2h-2zM299.4 205h2v2h-2zM300 208.6h2v2h-2zM300.2 197h2v2h-2zM300.4 211.9h2v2h-2zM300.4 207.8h2v2h-2zM300.5 204.6h2v2h-2zM300.7 192.8h2v2h-2zM301 202.2h2v2h-2zM301.1 199.1h2v2h-2zM301.6 205h2v2h-2zM301.7 197.2h2v2h-2zM301.9 201.9h2v2h-2zM301.9 205h2v2h-2zM302.4 204.4h2v2h-2zM302.6 205.1h2v2h-2zM302.8 202.3h2v2h-2zM302.8 202.1h2v2h-2zM303.9 205h2v2h-2zM304.1 198.6h2v2h-2zM304.5 208.4h2v2h-2zM304.7 196.2h2v2h-2zM304.7 204.9h2v2h-2zM305 201.4h2v2h-2zM305.1 208.7h2v2h-2zM305.2 199h2v2h-2zM305.3 201.9h2v2h-2zM305.5 201.6h2v2h-2zM306.4 199.4h2v2h-2zM306.5 207.7h2v2h-2zM306.8 185.4h2v2h-2zM307 205.1h2v2h-2zM307.3 208.1h2v2h-2zM307.4 194.6h2v2h-2zM307.7 211.9h2v2h-2zM307.8 205h2v2h-2zM307.8 201.5h2v2h-2zM307.9 204.8h2v2h-2zM307.9 211.8h2v2h-2zM307.9 201.7h2v2h-2zM308.3 205h2v2h-2zM308.3 207.9h2v2h-2zM308.4 212.3h2v2h-2zM308.5 194.4h2v2h-2zM308.6 194.9h2v2h-2zM308.6 204.4h2v2h-2zM308.7 211.6h2v2h-2zM308.9 205.4h2v2h-2zM309 197.3h2v2h-2zM309.1 211.6h2v2h-2zM309.2 201.7h2v2h-2zM309.5 212.5h2v2h-2zM309.7 212.2h2v2h-2zM310.1 204.6h2v2h-2zM310.5 199.2h2v2h-2zM310.5 205.1h2v2h-2zM310.5 211.6h2v2h-2zM310.5 205.3h2v2h-2zM310.6 207.8h2v2h-2zM310.6 205.2h2v2h-2zM310.7 208.2h2v2h-2zM311 221.3h2v2h-2zM311.3 204.5h2v2h-2zM311.4 208.7h2v2h-2zM311.5 205.3h2v2h-2zM311.5 216.7h2v2h-2zM311.5 208.6h2v2h-2zM312.1 198.9h2v2h-2zM312.1 211.6h2v2h-2zM312.2 208.4h2v2h-2zM312.3 204.6h2v2h-2zM312.4 202h2v2h-2zM312.4 216.3h2v2h-2zM312.6 212h2v2h-2zM312.9 212.6h2v2h-2zM313 208.2h2v2h-2zM313 201.4h2v2h-2zM313.2 201.8h2v2h-2zM313.3 208.8h2v2h-2zM313.5 204.8h2v2h-2zM313.8 211.6h2v2h-2zM313.8 202.5h2v2h-2zM314 208h2v2h-2zM314.1 204.6h2v2h-2zM314.2 208.8h2v2h-2zM314.3 208.1h2v2h-2zM314.4 197.2h2v2h-2zM314.5 199.6h2v2h-2zM315 212h2v2h-2zM315.9 194h2v2h-2zM316.1 208.5h2v2h-2zM316.2 216h2v2h-2zM316.2 208.1h2v2h-2zM316.2 199.3h2v2h-2zM316.4 204.3h2v2h-2zM316.4 216.6h2v2h-2zM316.7 216.8h2v2h-2zM316.7 222.1h2v2h-2zM316.8 207.8h2v2h-2zM316.8 207.7h2v2h-2zM317 201.7h2v2h-2zM317.4 196.3h2v2h-2zM317.5 211.8h2v2h-2zM317.6 204.9h2v2h-2zM318 198.7h2v2h-2zM318.4 205.5h2v2h-2zM318.9 216.1h2v2h-2zM319 208.6h2v2h-2zM319.2 217h2v2h-2zM319.3 204.4h2v2h-2zM319.4 216.1h2v2h-2zM319.9 208h2v2h-2zM320 211.8h2v2h-2zM320 205.4h2v2h-2zM320.1 212.5h2v2h-2zM320.1 211.7h2v2h-2zM320.7 194.1h2v2h-2zM320.8 207.9h2v2h-2zM320.9 201.9h2v2h-2zM321.1 211.5h2v2h-2zM321.1 217h2v2h-2zM321.1 207.9h2v2h-2zM321.2 212h2v2h-2zM321.3 208.5h2v2h-2zM321.5 204.5h2v2h-2zM321.8 216.6h2v2h-2zM321.8 212.6h2v2h-2zM321.8 208.7h2v2h-2zM321.9 212h2v2h-2zM322.1 212.3h2v2h-2zM322.1 212.4h2v2h-2zM322.2 216.6h2v2h-2zM322.6 208.7h2v2h-2zM322.7 216.2h2v2h-2zM323.2 198.9h2v2h-2zM323.3 208h2v2h-2zM323.3 208.4h2v2h-2zM323.3 204.6h2v2h-2zM323.5 216.2h2v2h-2zM323.6 211.6h2v2h-2zM323.7 216.7h2v2h-2zM323.8 212.3h2v2h-2zM323.8 199.4h2v2h-2zM323.8 208.4h2v2h-2zM323.9 212.3h2v2h-2zM323.9 212.4h2v2h-2zM324 208.7h2v2h-2zM324.4 212.4h2v2h-2zM324.7 208.6h2v2h-2zM324.7 217.1h2v2h-2zM324.9 216.6h2v2h-2zM325.1 196.8h2v2h-2zM325.1 217.1h2v2h-2zM325.2 216h2v2h-2zM325.3 207.9h2v2h-2zM325.3 204.4h2v2h-2zM325.4 208.4h2v2h-2zM325.4 207.9h2v2h-2zM325.5 208h2v2h-2zM325.8 212.7h2v2h-2zM326.3 202.4h2v2h-2zM326.4 216.6h2v2h-2zM326.6 198.7h2v2h-2zM326.6 204.4h2v2h-2zM327.2 202.1h2v2h-2zM327.2 217.1h2v2h-2zM327.4 205.4h2v2h-2zM327.4 207.9h2v2h-2zM327.7 217h2v2h-2zM327.7 199.2h2v2h-2zM327.7 196.3h2v2h-2zM327.8 199.6h2v2h-2zM327.9 201.5h2v2h-2zM327.9 208.5h2v2h-2zM327.9 196.7h2v2h-2zM327.9 204.4h2v2h-2zM328.4 212.3h2v2h-2zM328.5 217h2v2h-2zM329 216.5h2v2h-2zM329 216.5h2v2h-2zM329.1 212.1h2v2h-2zM329.4 201.9h2v2h-2zM329.5 216.2h2v2h-2zM329.6 208.1h2v2h-2zM329.7 198.8h2v2h-2zM329.7 211.7h2v2h-2zM329.8 208.4h2v2h-2zM329.9 222.3h2v2h-2zM330.8 212.4h2v2h-2zM330.8 208.7h2v2h-2zM330.9 196.3h2v2h-2zM331 208.4h2v2h-2zM331.4 212.7h2v2h-2zM331.5 216.4h2v2h-2zM331.5 201.6h2v2h-2zM331.6 199.3h2v2h-2zM331.6 212.3h2v2h-2zM331.8 208.6h2v2h-2zM331.9 221.2h2v2h-2zM332 211.9h2v2h-2zM332 196.4h2v2h-2zM332.2 202.5h2v2h-2zM332.4 202.1h2v2h-2zM332.7 208.2h2v2h-2zM332.7 207.9h2v2h-2zM332.9 208.4h2v2h-2zM333 212.5h2v2h-2zM333 217h2v2h-2zM333 212.7h2v2h-2zM333.4 221.2h2v2h-2zM333.8 202.4h2v2h-2zM334 212.2h2v2h-2zM334.1 217h2v2h-2zM334.2 212.6h2v2h-2zM334.2 216.6h2v2h-2zM334.5 202.4h2v2h-2zM334.8 208.2h2v2h-2zM334.9 204.6h2v2h-2zM335 204.8h2v2h-2zM335 212.4h2v2h-2zM335.1 204.5h2v2h-2zM335.6 204.4h2v2h-2zM335.7 205.4h2v2h-2zM335.8 198.8h2v2h-2zM336.1 212.4h2v2h-2zM336.3 207.9h2v2h-2zM336.5 205h2v2h-2zM336.6 212h2v2h-2zM336.7 211.9h2v2h-2zM337.4 221.8h2v2h-2zM337.5 216.7h2v2h-2zM337.8 208.8h2v2h-2zM337.8 211.9h2v2h-2zM337.8 216.4h2v2h-2zM337.9 201.8h2v2h-2zM338 221.8h2v2h-2zM338.2 207.8h2v2h-2zM338.4 216.5h2v2h-2zM338.5 201.7h2v2h-2zM338.6 212.4h2v2h-2zM338.8 212h2v2h-2zM338.9 205h2v2h-2zM339.3 202.5h2v2h-2zM339.4 204.5h2v2h-2zM339.6 216.6h2v2h-2zM339.9 212.2h2v2h-2zM341.1 212.4h2v2h-2zM341.3 211.8h2v2h-2zM341.4 205.4h2v2h-2zM341.5 212.3h2v2h-2zM341.6 216h2v2h-2zM341.6 205.4h2v2h-2zM341.7 216.9h2v2h-2zM341.8 199.6h2v2h-2zM341.9 212.1h2v2h-2zM342 208.7h2v2h-2zM342.4 199h2v2h-2zM342.7 212.3h2v2h-2zM342.9 212.1h2v2h-2zM343.1 221.4h2v2h-2zM343.5 208.2h2v2h-2zM343.7 207.8h2v2h-2zM343.8 204.9h2v2h-2zM343.9 212.4h2v2h-2zM57.1 5.3h2v2h-2zM57.8 6.3h2v2h-2zM57.6 7.4h2v2h-2zM58.6 8.1h2v2h-2zM59.5 8.8h2v2h-2zM58.8 9.3h2v2h-2zM59.8 9.9h2v2h-2zM59.8 11.2h2v2h-2zM59.6 12h2v2h-2zM60.5 12.5h2v2h-2zM60.4 13.7h2v2h-2zM60.3 14h2v2h-2zM61.3 15.1h2v2h-2zM60.8 15.9h2v2h-2zM62.2 16.2h2v2h-2zM62 17.7h2v2h-2zM61.9 18.5h2v2h-2zM62 19.6h2v2h-2zM63.1 19.6h2v2h-2zM62.7 20.7h2v2h-2zM62.8 21.6h2v2h-2zM62.9 22.5h2v2h-2zM63.4 23.1h2v2h-2zM63.9 24.2h2v2h-2zM63.6 24.9h2v2h-2zM64.6 25.5h2v2h-2zM65 26.1h2v2h-2zM64.6 27.2h2v2h-2zM64.8 28.3h2v2h-2zM65.2 29.2h2v2h-2zM64.9 29.2h2v2h-2zM65.9 30h2v2h-2zM66 30.9h2v2h-2zM65.9 32.2h2v2h-2zM65.9 32.4h2v2h-2zM65.9 33.8h2v2h-2zM66.3 34.5h2v2h-2zM66.5 35.2h2v2h-2zM66.5 35.6h2v2h-2zM66.9 36.8h2v2h-2zM66.2 37.5h2v2h-2zM67.4 38.9h2v2h-2zM66.8 39.1h2v2h-2zM67.7 40.1h2v2h-2zM67.5 40.9h2v2h-2zM67.8 41.5h2v2h-2zM68.1 42.4h2v2h-2zM68.4 43.2h2v2h-2zM68.7 44.2h2v2h-2zM69.6 44.7h2v2h-2zM69 45.4h2v2h-2zM69.3 45.8h2v2h-2zM69.8 47h2v2h-2zM70.3 47.9h2v2h-2zM70.6 48.9h2v2h-2zM70.3 49.4h2v2h-2zM70.6 50.2h2v2h-2zM71.3 50.9h2v2h-2zM71.1 51.7h2v2h-2zM72 52.6h2v2h-2zM71.7 53.2h2v2h-2zM72.1 54.1h2v2h-2zM72 54.5h2v2h-2zM71.9 56h2v2h-2zM73 56.2h2v2h-2zM73.1 57.5h2v2h-2zM74.3 58h2v2h-2zM73.3 58.8h2v2h-2zM74.1 60.2h2v2h-2zM73.9 61.1h2v2h-2zM75 61.4h2v2h-2zM74.8 62.2h2v2h-2zM74.6 63h2v2h-2zM75 63.5h2v2h-2zM75.3 64.9h2v2h-2zM75.3 65.3h2v2h-2zM75.6 66.4h2v2h-2zM76.1 67.4h2v2h-2zM76.3 67.5h2v2h-2zM76.8 68.6h2v2h-2zM77.3 69.7h2v2h-2zM76.3 69.7h2v2h-2zM77.4 70.9h2v2h-2zM76.9 71.7h2v2h-2zM78.4 72.9h2v2h-2zM77.9 73.6h2v2h-2zM78.8 74.2h2v2h-2zM79.3 74.9h2v2h-2zM79.7 76.4h2v2h-2zM79.4 76.8h2v2h-2zM79.5 77.2h2v2h-2zM80.1 78.7h2v2h-2zM80.3 79.2h2v2h-2zM80.3 79.6h2v2h-2zM80.3 80.3h2v2h-2zM80.9 81.2h2v2h-2zM81.3 82.1h2v2h-2zM81.7 83.6h2v2h-2zM82 84.2h2v2h-2zM81.6 84.6h2v2h-2zM81.7 85.6h2v2h-2zM82.8 86h2v2h-2zM83.3 86.9h2v2h-2zM82.3 88h2v2h-2zM83.3 88.6h2v2h-2zM82.8 90h2v2h-2zM83 90.6h2v2h-2zM83.7 91h2v2h-2zM83.9 91.6h2v2h-2zM83.7 92.8h2v2h-2zM84 93.3h2v2h-2zM85.1 94.8h2v2h-2zM85.2 95.4h2v2h-2zM85.3 95.9h2v2h-2zM85.6 95.9h2v2h-2zM86.4 97.6h2v2h-2zM87.2 97.9h2v2h-2zM87.7 98.9h2v2h-2zM87.4 99.8h2v2h-2zM88.6 100.7h2v2h-2zM88.9 101.2h2v2h-2zM89.4 102.6h2v2h-2zM89.4 103.2h2v2h-2zM89.8 104h2v2h-2zM90.2 104.8h2v2h-2zM91.2 105.2h2v2h-2zM91.8 106h2v2h-2zM92.1 106.8h2v2h-2zM92.7 107.7h2v2h-2zM93.5 108.8h2v2h-2zM93.7 109.1h2v2h-2zM93.2 110.1h2v2h-2zM95.3 110.8h2v2h-2zM95.8 112.3h2v2h-2zM95.8 112.6h2v2h-2zM97.2 113.4h2v2h-2zM97.3 114.1h2v2h-2zM98.2 115.1h2v2h-2zM99.1 116h2v2h-2zM99.6 116.7h2v2h-2zM100.6 117.5h2v2h-2zM100.2 118.1h2v2h-2zM100.2 118.8h2v2h-2zM101.4 119.6h2v2h-2zM102.3 120.2h2v2h-2zM102.2 121.6h2v2h-2zM103.6 122h2v2h-2zM104.5 123.5h2v2h-2zM105 123.5h2v2h-2z"/></g>
<g fill="#808000"><path d="M51.4 98.3h2v2h-2zM51.5 98.8h2v2h-2zM52 98.7h2v2h-2zM52 96.5h2v2h-2zM52.1 97.4h2v2h-2zM52.2 99.1h2v2h-2zM52.6 97.8h2v2h-2zM52.6 97.6h2v2h-2zM52.8 97.7h2v2h-2zM53.4 95.2h2v2h-2zM53.4 98.8h2v2h-2zM53.6 97.4h2v2h-2zM53.9 97.4h2v2h-2zM54 97.6h2v2h-2zM54.3 95.8h2v2h-2zM54.4 95.6h2v2h-2zM54.7 96h2v2h-2zM54.9 97.5h2v2h-2zM55 99.5h2v2h-2zM55.1 98.6h2v2h-2zM55.5 98.3h2v2h-2zM55.6 97.3h2v2h-2zM55.8 98.2h2v2h-2zM55.9 96.6h2v2h-2zM56.3 97.9h2v2h-2zM56.5 98.2h2v2h-2zM56.7 98.6h2v2h-2zM56.7 97.7h2v2h-2zM56.8 98.4h2v2h-2zM56.8 98.5h2v2h-2zM56.8 98.2h2v2h-2zM57.1 99.6h2v2h-2zM57.3 99.3h2v2h-2zM57.3 97.6h2v2h-2zM57.7 98.9h2v2h-2zM57.9 96.6h2v2h-2zM58.1 99.9h2v2h-2zM58.2 98.4h2v2h-2zM58.3 100.8h2v2h-2zM58.7 99.2h2v2h-2zM58.7 98h2v2h-2zM58.7 101.6h2v2h-2zM58.8 99.1h2v2h-2zM58.9 99.7h2v2h-2zM59 99.9h2v2h-2zM59.1 101.1h2v2h-2zM59.3 99.3h2v2h-2zM59.7 100.6h2v2h-2zM60 103h2v2h-2zM60.3 101.4h2v2h-2zM60.3 101.4h2v2h-2zM60.4 102.5h2v2h-2zM60.6 102h2v2h-2zM60.7 103.6h2v2h-2zM60.9 100.9h2v2h-2zM61.2 104.7h2v2h-2zM61.5 103.4h2v2h-2zM61.9 104.3h2v2h-2zM62 104h2v2h-2zM62 103.7h2v2h-2zM62.1 105.3h2v2h-2zM62.2 103.6h2v2h-2zM62.5 105.3h2v2h-2zM62.9 106.7h2v2h-2zM63.1 107h2v2h-2zM63.5 105.5h2v2h-2zM63.5 103.9h2v2h-2zM63.5 106.3h2v2h-2zM63.6 106.2h2v2h-2zM64 108h2v2h-2zM64.1 107.3h2v2h-2zM64.1 106.7h2v2h-2zM64.3 107.4h2v2h-2zM64.4 107.1h2v2h-2zM64.5 104.7h2v2h-2zM64.7 108.7h2v2h-2zM64.7 106.2h2v2h-2zM65 105.7h2v2h-2zM65.1 105.9h2v2h-2zM65.1 108.4h2v2h-2zM65.2 108.1h2v2h-2zM65.7 106.5h2v2h-2zM65.7 109.1h2v2h-2zM65.7 108.8h2v2h-2zM66.1 107.4h2v2h-2zM66.3 109.8h2v2h-2zM66.3 107.6h2v2h-2zM66.5 107.9h2v2h-2zM66.5 109.2h2v2h-2zM66.7 109.2h2v2h-2zM66.8 110.3h2v2h-2zM67.8 109.1h2v2h-2zM67.9 111.6h2v2h-2zM68.1 110.9h2v2h-2zM68.3 111.7h2v2h-2zM68.5 111.5h2v2h-2zM68.7 112.9h2v2h-2zM70 114.9h2v2h-2zM70.2 115.3h2v2h-2zM70.2 115.1h2v2h-2zM70.5 116.4h2v2h-2zM70.5 115.9h2v2h-2zM70.6 116.6h2v2h-2zM70.6 113.6h2v2h-2zM70.8 118.2h2v2h-2zM70.8 114.8h2v2h-2zM70.8 115.2h2v2h-2zM70.9 117.9h2v2h-2zM71.6 116.1h2v2h-2zM71.9 118.3h2v2h-2zM72.1 116.7h2v2h-2zM72.2 119.3h2v2h-2zM72.2 119.1h2v2h-2zM73 120.1h2v2h-2zM73.3 118.9h2v2h-2zM73.5 119.5h2v2h-2zM73.6 120.7h2v2h-2zM73.8 118.1h2v2h-2zM74.6 120.8h2v2h-2zM74.8 121.3h2v2h-2zM75.2 120.4h2v2h-2zM75.4 120.8h2v2h-2zM75.4 121.3h2v2h-2zM75.9 122.8h2v2h-2zM75.9 121.1h2v2h-2zM76 124h2v2h-2zM76.2 125h2v2h-2zM76.4 125.4h2v2h-2zM76.5 121.7h2v2h-2zM76.5 124.7h2v2h-2zM76.5 121.2h2v2h-2zM76.7 125.3h2v2h-2zM76.9 126.8h2v2h-2zM77 123h2v2h-2zM77.3 121.2h2v2h-2zM77.9 124.6h2v2h-2zM78.1 123h2v2h-2zM78.5 124.6h2v2h-2zM78.6 124h2v2h-2zM78.7 122.7h2v2h-2zM79.4 123.9h2v2h-2zM79.5 127.5h2v2h-2zM79.5 128.4h2v2h-2zM79.9 125.1h2v2h-2zM80.2 124.7h2v2h-2zM80.2 127.8h2v2h-2zM80.3 127.2h2v2h-2zM80.4 129.8h2v2h-2zM80.7 124.4h2v2h-2zM80.8 126.9h2v2h-2zM81.2 125h2v2h-2zM81.5 125.7h2v2h-2zM82 127.1h2v2h-2zM82.2 130.2h2v2h-2zM82.5 134.3h2v2h-2zM82.5 130h2v2h-2zM82.6 128.3h2v2h-2zM83.1 129.1h2v2h-2zM83.1 131.8h2v2h-2zM83.2 128.1h2v2h-2zM83.3 132.5h2v2h-2zM83.6 132.1h2v2h-2zM83.7 130.3h2v2h-2zM83.7 130.4h2v2h-2zM83.9 133.2h2v2h-2zM84.6 128.9h2v2h-2zM84.8 131h2v2h-2zM84.9 133.5h2v2h-2zM84.9 131.1h2v2h-2zM85 132.3h2v2h-2zM85.7 132.5h2v2h-2zM86 129.2h2v2h-2zM86 133.2h2v2h-2zM86 134h2v2h-2zM86.3 133.8h2v2h-2zM86.3 130.9h2v2h-2zM86.3 133.4h2v2h-2zM86.6 132.3h2v2h-2zM86.7 130.5h2v2h-2zM87 134h2v2h-2zM87.1 136.6h2v2h-2zM87.1 135.1h2v2h-2zM87.3 135.3h2v2h-2zM87.5 131h2v2h-2zM87.5 136.1h2v2h-2zM87.7 131h2v2h-2zM88.2 134.1h2v2h-2zM88.6 134.5h2v2h-2zM88.7 133.1h2v2h-2zM88.9 137h2v2h-2zM88.9 136.4h2v2h-2zM88.9 135.5h2v2h-2zM89.8 141.6h2v2h-2zM90.1 139h2v2h-2zM90.3 140.4h2v2h-2zM90.4 133h2v2h-2zM90.5 135.9h2v2h-2zM90.7 136.3h2v2h-2zM91.2 135.8h2v2h-2zM91.6 135h2v2h-2zM92 138.1h2v2h-2zM92.1 138.6h2v2h-2zM92.5 137.1h2v2h-2zM92.5 140.7h2v2h-2zM92.9 133.1h2v2h-2zM93.4 142.2h2v2h-2zM93.8 138.3h2v2h-2zM94.2 136.5h2v2h-2zM94.6 142.1h2v2h-2zM94.7 141.2h2v2h-2zM94.8 140.9h2v2h-2zM94.9 139.4h2v2h-2zM95.1 137.9h2v2h-2zM95.3 142.4h2v2h-2zM95.4 137.5h2v2h-2zM95.5 137.9h2v2h-2zM95.9 138.8h2v2h-2zM95.9 142.4h2v2h-2zM96.2 145.7h2v2h-2zM96.6 145.3h2v2h-2zM97.5 142.7h2v2h-2zM97.6 141.7h2v2h-2zM97.8 146.4h2v2h-2zM98.9 147h2v2h-2zM99.2 145.2h2v2h-2zM99.2 140.6h2v2h-2zM100.1 163.5h2v2h-2zM100.3 148.3h2v2h-2zM100.7 157.4h2v2h-2zM100.8 144.6h2v2h-2zM101 149.2h2v2h-2zM101 143.4h2v2h-2zM101.3 140.8h2v2h-2zM101.7 142.8h2v2h-2zM101.7 148.4h2v2h-2zM101.8 146.6h2v2h-2zM101.9 142.6h2v2h-2zM102.3 143.5h2v2h-2zM102.3 145.5h2v2h-2zM102.7 141.5h2v2h-2zM103 144.5h2v2h-2zM103.1 161.4h2v2h-2zM103.5 143.1h2v2h-2zM103.6 144.3h2v2h-2zM103.7 150.1h2v2h-2zM103.7 144.8h2v2h-2zM104 148.4h2v2h-2zM104.2 153.1h2v2h-2zM104.7 143.2h2v2h-2zM104.8 146.3h2v2h-2zM105 160.3h2v2h-2zM105 144.1h2v2h-2zM105.2 150.4h2v2h-2zM105.3 139.1h2v2h-2zM105.3 144.7h2v2h-2zM105.4 145.8h2v2h-2zM105.8 148.8h2v2h-2zM105.9 148.8h2v2h-2zM106 143.8h2v2h-2zM106.2 145.6h2v2h-2zM106.2 158.1h2v2h-2zM106.5 149.2h2v2h-2zM106.5 149.3h2v2h-2zM106.8 146.5h2v2h-2zM106.9 150h2v2h-2zM107 148h2v2h-2zM107.3 147.4h2v2h-2zM107.3 147.1h2v2h-2zM107.6 148.4h2v2h-2zM107.7 149.7h2v2h-2zM108 149h2v2h-2zM108.3 152.3h2v2h-2zM108.5 146h2v2h-2zM109.2 154.5h2v2h-2zM109.2 148.3h2v2h-2zM109.3 168.2h2v2h-2zM109.4 150.7h2v2h-2zM109.5 146.3h2v2h-2zM109.5 151h2v2h-2zM110 144.7h2v2h-2zM110.4 147.8h2v2h-2zM110.6 149.7h2v2h-2zM110.7 150.3h2v2h-2zM110.8 145.8h2v2h-2zM111.1 148.7h2v2h-2zM111.2 151.7h2v2h-2zM111.6 149.2h2v2h-2zM111.7 151.7h2v2h-2zM112 152.6h2v2h-2zM112.3 147.7h2v2h-2zM112.4 146.6h2v2h-2zM112.7 162h2v2h-2zM113 148.5h2v2h-2zM113 149.3h2v2h-2zM113.1 149.3h2v2h-2zM113.6 152.1h2v2h-2zM113.7 148.4h2v2h-2zM113.7 150.6h2v2h-2zM113.9 152.5h2v2h-2zM113.9 149h2v2h-2zM114 164h2v2h-2zM114.2 152.3h2v2h-2zM114.3 148.8h2v2h-2zM114.3 150.6h2v2h-2zM114.4 165.6h2v2h-2zM115.2 155.7h2v2h-2zM115.4 169.5h2v2h-2zM115.9 147.9h2v2h-2zM116.7 150.2h2v2h-2zM116.8 147.4h2v2h-2zM116.8 148.6h2v2h-2zM116.9 150.4h2v2h-2zM117.1 151.6h2v2h-2zM117.5 148.5h2v2h-2zM118 150.7h2v2h-2zM118.1 157.8h2v2h-2zM118.2 155.8h2v2h-2zM118.5 152.4h2v2h-2zM118.7 169.4h2v2h-2zM119 154.6h2v2h-2zM119 153.3h2v2h-2zM119.2 152.2h2v2h-2zM119.5 157.8h2v2h-2zM119.6 172.2h2v2h-2zM119.7 154.8h2v2h-2zM119.8 153.7h2v2h-2zM120.8 170.7h2v2h-2zM120.9 148.5h2v2h-2zM121.4 160.5h2v2h-2zM121.6 152.6h2v2h-2zM121.9 161.1h2v2h-2zM121.9 158.2h2v2h-2zM122.1 154.1h2v2h-2zM122.4 169.1h2v2h-2zM122.4 154.7h2v2h-2zM122.6 174.5h2v2h-2zM122.9 158.3h2v2h-2zM123.1 155.3h2v2h-2zM123.1 152.7h2v2h-2zM123.1 158h2v2h-2zM124.3 155.9h2v2h-2zM124.5 155.7h2v2h-2zM124.5 155.9h2v2h-2zM124.6 157.4h2v2h-2zM124.6 154.8h2v2h-2zM126.5 160.6h2v2h-2zM126.7 156.7h2v2h-2zM126.8 162.7h2v2h-2zM127.2 158.2h2v2h-2zM127.7 157.7h2v2h-2zM127.8 155.8h2v2h-2zM127.8 160.1h2v2h-2zM127.9 155.6h2v2h-2zM128 160.7h2v2h-2zM128.5 163.5h2v2h-2zM129 158.8h2v2h-2zM129.1 158.3h2v2h-2zM129.5 159.3h2v2h-2zM129.8 158.6h2v2h-2zM129.8 169.5h2v2h-2zM129.9 163h2v2h-2zM129.9 159.7h2v2h-2zM129.9 156.4h2v2h-2zM130 156.6h2v2h-2zM130 156h2v2h-2zM130.1 158.8h2v2h-2zM130.2 153.5h2v2h-2zM130.2 153.2h2v2h-2zM130.5 159.7h2v2h-2zM130.5 156.4h2v2h-2zM130.9 161.4h2v2h-2zM131 164.3h2v2h-2zM131.5 160.7h2v2h-2zM131.5 164.8h2v2h-2zM131.9 159.1h2v2h-2zM132 173h2v2h-2zM132.2 159.9h2v2h-2zM132.2 179.1h2v2h-2zM132.4 161.2h2v2h-2zM134.1 161.1h2v2h-2zM134.7 159.5h2v2h-2zM134.9 179.3h2v2h-2zM135.1 163.1h2v2h-2zM135.3 160.8h2v2h-2zM135.3 162.3h2v2h-2zM135.7 160h2v2h-2zM135.8 165h2v2h-2zM136.2 163.3h2v2h-2zM136.9 157.1h2v2h-2zM137.2 161h2v2h-2zM137.4 158.1h2v2h-2zM137.5 164.6h2v2h-2zM137.5 163.8h2v2h-2zM138 159.1h2v2h-2zM138.1 158.5h2v2h-2zM138.3 178.2h2v2h-2zM138.5 161.1h2v2h-2zM138.7 170.5h2v2h-2zM138.9 165.4h2v2h-2zM139 168.1h2v2h-2zM139.3 161.2h2v2h-2zM139.8 171.9h2v2h-2zM140.3 161.6h2v2h-2zM140.6 159.8h2v2h-2zM140.7 158.4h2v2h-2zM140.7 168h2v2h-2zM141 161.7h2v2h-2zM141.1 174.2h2v2h-2zM141.4 163.3h2v2h-2zM141.6 164.7h2v2h-2zM141.6 161.3h2v2h-2zM141.9 170.1h2v2h-2zM142.1 161.2h2v2h-2zM142.2 166.1h2v2h-2zM143.2 172.3h2v2h-2zM143.2 166.7h2v2h-2zM143.7 168.4h2v2h-2zM143.8 160.9h2v2h-2zM143.9 177.5h2v2h-2zM144.3 168.1h2v2h-2zM144.4 165.5h2v2h-2zM144.5 165.4h2v2h-2zM144.6 167h2v2h-2zM144.7 165.8h2v2h-2zM145 166h2v2h-2zM145.9 165.8h2v2h-2zM146.5 170.9h2v2h-2zM146.5 179.2h2v2h-2zM146.6 155.9h2v2h-2zM146.9 170.9h2v2h-2zM146.9 171.3h2v2h-2zM147 163.3h2v2h-2zM147 168.4h2v2h-2zM147.2 167.8h2v2h-2zM147.6 161h2v2h-2zM147.6 163.4h2v2h-2zM147.7 163.2h2v2h-2zM147.8 163.1h2v2h-2zM147.9 167.2h2v2h-2zM147.9 169.2h2v2h-2zM148 168.3h2v2h-2zM148 163.5h2v2h-2zM148.1 164h2v2h-2zM148.1 181.2h2v2h-2zM148.4 165.5h2v2h-2zM148.5 167.7h2v2h-2zM148.5 161.9h2v2h-2zM148.9 168.2h2v2h-2zM148.9 159.4h2v2h-2zM149 168.2h2v2h-2zM149.3 168.3h2v2h-2zM149.3 172.4h2v2h-2zM149.6 164.1h2v2h-2zM149.6 173h2v2h-2zM150 183.6h2v2h-2zM150.1 163.3h2v2h-2zM150.2 169.5h2v2h-2zM150.3 175.2h2v2h-2zM150.4 164.2h2v2h-2zM150.5 163.8h2v2h-2zM150.5 177.1h2v2h-2zM150.8 161h2v2h-2zM151 173.2h2v2h-2zM151.2 164.3h2v2h-2zM151.5 174.7h2v2h-2zM151.6 175.6h2v2h-2zM151.6 167.4h2v2h-2zM151.8 163.7h2v2h-2zM152.4 165.9h2v2h-2zM152.5 162.4h2v2h-2zM152.6 163.5h2v2h-2zM152.6 169.4h2v2h-2zM152.7 169.1h2v2h-2zM152.8 168.2h2v2h-2zM152.8 169.4h2v2h-2zM153.4 168.3h2v2h-2zM154.4 171.8h2v2h-2zM154.8 169.7h2v2h-2zM154.9 178.9h2v2h-2zM155 175.1h2v2h-2zM155.2 170.8h2v2h-2zM155.3 166.2h2v2h-2zM155.3 171h2v2h-2zM155.6 166.3h2v2h-2zM156.1 164.8h2v2h-2zM156.3 169.2h2v2h-2zM156.6 168.2h2v2h-2zM156.8 188.8h2v2h-2zM156.8 185.7h2v2h-2zM156.9 169.2h2v2h-2zM157.2 168.3h2v2h-2zM157.4 175.7h2v2h-2zM157.4 172.8h2v2h-2zM158.1 173h2v2h-2zM158.3 171.5h2v2h-2zM158.5 170.4h2v2h-2zM159 167.3h2v2h-2zM159.1 169.9h2v2h-2zM159.1 169.9h2v2h-2zM159.4 183.4h2v2h-2zM159.7 172.6h2v2h-2zM160.2 168.8h2v2h-2zM160.2 170.8h2v2h-2zM160.5 173.8h2v2h-2zM160.9 178h2v2h-2zM161.5 177.6h2v2h-2zM161.9 169.1h2v2h-2zM162.1 170.2h2v2h-2zM162.1 172.5h2v2h-2zM162.5 175.6h2v2h-2zM162.6 171.3h2v2h-2zM162.6 169.5h2v2h-2zM162.6 165.7h2v2h-2zM162.8 172h2v2h-2zM163 172.9h2v2h-2zM163 167.5h2v2h-2zM163.3 188.2h2v2h-2zM163.4 173.8h2v2h-2zM163.7 169h2v2h-2zM164.1 170.9h2v2h-2zM164.2 171.1h2v2h-2zM164.3 172.3h2v2h-2zM164.6 174.5h2v2h-2zM164.8 173.5h2v2h-2zM165.1 168.5h2v2h-2zM165.2 167.8h2v2h-2zM165.6 163.9h2v2h-2zM166.1 174h2v2h-2zM166.1 172.2h2v2h-2zM166.2 173.8h2v2h-2zM166.4 183.1h2v2h-2zM166.4 177h2v2h-2zM167.3 174.2h2v2h-2zM167.4 176.6h2v2h-2zM167.5 173.7h2v2h-2zM167.8 175.7h2v2h-2zM168.2 186.5h2v2h-2zM168.3 164.8h2v2h-2zM168.8 176.8h2v2h-2zM169.2 169.6h2v2h-2zM169.4 185.5h2v2h-2zM169.7 175.5h2v2h-2zM169.9 186.7h2v2h-2zM170.3 180.2h2v2h-2zM170.7 173.9h2v2h-2zM171 190.4h2v2h-2zM171.2 170.9h2v2h-2zM171.4 175.6h2v2h-2zM171.5 180.6h2v2h-2zM171.6 174.6h2v2h-2zM171.9 177.9h2v2h-2zM171.9 174.2h2v2h-2zM171.9 179.1h2v2h-2zM172 169h2v2h-2zM172.1 174.5h2v2h-2zM172.3 171.4h2v2h-2zM172.5 174.5h2v2h-2zM172.5 177.4h2v2h-2zM172.8 178.4h2v2h-2zM172.9 176.1h2v2h-2zM173.1 171.8h2v2h-2zM173.1 180.6h2v2h-2zM173.2 192.1h2v2h-2zM173.2 169.9h2v2h-2zM173.3 175.1h2v2h-2zM173.4 179.8h2v2h-2zM173.9 176.8h2v2h-2zM173.9 175.6h2v2h-2zM174.1 181h2v2h-2zM174.1 176.7h2v2h-2zM174.3 172h2v2h-2zM174.7 175.7h2v2h-2zM175.9 185.5h2v2h-2zM177.6 170.1h2v2h-2zM177.6 173.2h2v2h-2zM177.7 177.1h2v2h-2zM177.9 192h2v2h-2zM178 183.6h2v2h-2zM178.5 178.3h2v2h-2zM178.6 172.3h2v2h-2zM179.2 179.8h2v2h-2zM179.5 195h2v2h-2zM179.9 177.7h2v2h-2zM180 178.3h2v2h-2zM180 194.8h2v2h-2zM180.1 182.6h2v2h-2zM180.2 177.3h2v2h-2zM180.3 179.4h2v2h-2zM180.4 196.8h2v2h-2zM180.5 180.2h2v2h-2zM180.6 180.9h2v2h-2zM180.8 176.8h2v2h-2zM180.9 174.6h2v2h-2zM181 176.6h2v2h-2zM181.4 181.7h2v2h-2zM181.9 173.8h2v2h-2zM182.2 178.9h2v2h-2zM182.8 185.1h2v2h-2zM183.8 181.9h2v2h-2zM184.6 184.6h2v2h-2zM184.7 175.9h2v2h-2zM185.6 177.1h2v2h-2zM186.4 186.7h2v2h-2zM187.2 175.5h2v2h-2zM187.7 181.1h2v2h-2zM187.8 197.2h2v2h-2zM187.9 181.6h2v2h-2zM188.4 181.9h2v2h-2zM188.4 183.2h2v2h-2zM188.4 185h2v2h-2zM188.6 190.3h2v2h-2zM188.6 186.3h2v2h-2zM188.9 180.9h2v2h-2zM189 182h2v2h-2zM189.1 188.8h2v2h-2zM189.1 182.4h2v2h-2zM189.6 181.6h2v2h-2zM189.8 181.9h2v2h-2zM189.9 183.9h2v2h-2zM190 178.3h2v2h-2zM190.5 181.2h2v2h-2zM190.9 201.7h2v2h-2zM190.9 177.6h2v2h-2zM191 183.2h2v2h-2zM191.1 184.5h2v2h-2zM191.2 183h2v2h-2zM191.4 183h2v2h-2zM191.8 180.5h2v2h-2zM192.4 178.3h2v2h-2zM193.3 185.5h2v2h-2zM193.3 185.1h2v2h-2zM193.3 176.6h2v2h-2zM193.4 181.9h2v2h-2zM193.7 184.9h2v2h-2zM195 183.6h2v2h-2zM195.1 187.2h2v2h-2zM195.2 197.2h2v2h-2zM195.3 184.6h2v2h-2zM195.4 179.7h2v2h-2zM195.7 179.7h2v2h-2zM196.8 188.7h2v2h-2zM196.9 190.1h2v2h-2zM197.2 194.7h2v2h-2zM197.4 181.7h2v2h-2zM197.5 185.5h2v2h-2zM197.6 188.8h2v2h-2zM197.8 185.1h2v2h-2zM198.1 190h2v2h-2zM198.3 201.5h2v2h-2zM198.6 196.3h2v2h-2zM198.9 185.7h2v2h-2zM199.1 185.4h2v2h-2zM199.2 185.4h2v2h-2zM199.3 201.4h2v2h-2zM199.4 186.3h2v2h-2zM199.9 189.7h2v2h-2zM200 189h2v2h-2zM200.1 182h2v2h-2zM200.2 179h2v2h-2zM200.2 185.3h2v2h-2zM200.3 180.4h2v2h-2zM200.4 199.4h2v2h-2zM200.4 184.7h2v2h-2zM200.4 187.1h2v2h-2zM200.5 190.9h2v2h-2zM200.5 181.9h2v2h-2zM201 201.5h2v2h-2zM201.1 182.4h2v2h-2zM201.3 194.3h2v2h-2zM201.6 194.5h2v2h-2zM202 184.9h2v2h-2zM202.1 201.9h2v2h-2zM202.1 175.3h2v2h-2zM202.2 181.7h2v2h-2zM202.3 188.6h2v2h-2zM202.5 184.8h2v2h-2zM202.9 182.6h2v2h-2zM203.3 183.8h2v2h-2zM203.4 184.9h2v2h-2zM203.4 194.7h2v2h-2zM203.5 182.3h2v2h-2zM203.6 184.7h2v2h-2zM203.9 196.6h2v2h-2zM204.2 188.9h2v2h-2zM204.4 176.1h2v2h-2zM204.6 184.8h2v2h-2zM204.6 185h2v2h-2zM204.7 181.8h2v2h-2zM204.8 179.6h2v2h-2zM204.8 183.5h2v2h-2zM204.9 186.8h2v2h-2zM205.1 182.2h2v2h-2zM205.2 194.8h2v2h-2zM205.5 186.8h2v2h-2zM205.6 189.1h2v2h-2zM205.7 181.7h2v2h-2zM206.2 185.1h2v2h-2zM206.2 183.8h2v2h-2zM206.5 190.3h2v2h-2zM206.9 189h2v2h-2zM207.1 185.3h2v2h-2zM207.1 185.2h2v2h-2zM207.2 188.8h2v2h-2zM207.6 188h2v2h-2zM207.7 188.9h2v2h-2zM207.8 201.4h2v2h-2zM207.9 186.2h2v2h-2zM208.4 188.3h2v2h-2zM208.6 186.9h2v2h-2zM208.7 183.3h2v2h-2zM208.7 190.2h2v2h-2zM209.3 188.5h2v2h-2zM209.4 188.1h2v2h-2zM209.5 192.5h2v2h-2zM209.6 185.7h2v2h-2zM209.6 179h2v2h-2zM209.9 183.8h2v2h-2zM210.1 190.5h2v2h-2zM210.1 187.9h2v2h-2zM210.3 193.9h2v2h-2zM210.4 197.2h2v2h-2zM210.5 182h2v2h-2zM211.2 178.3h2v2h-2zM211.3 192.8h2v2h-2zM211.4 185.2h2v2h-2zM211.6 189h2v2h-2zM211.6 194.1h2v2h-2zM211.8 189h2v2h-2zM211.9 186.4h2v2h-2zM212.1 194.2h2v2h-2zM212.5 186.7h2v2h-2zM212.7 188.8h2v2h-2zM213.2 195h2v2h-2zM213.3 190.8h2v2h-2zM213.6 184.6h2v2h-2zM213.7 199.4h2v2h-2zM213.7 181.1h2v2h-2zM213.8 188.6h2v2h-2zM213.9 187.3h2v2h-2zM214.2 191.9h2v2h-2zM214.4 202h2v2h-2zM214.4 188h2v2h-2zM214.5 189.9h2v2h-2zM214.6 179.5h2v2h-2zM214.7 204.6h2v2h-2zM215 192h2v2h-2zM215.1 186.4h2v2h-2zM215.2 187.9h2v2h-2zM215.7 194.8h2v2h-2zM216.3 188.7h2v2h-2zM216.4 186.3h2v2h-2zM216.6 187h2v2h-2zM217.3 191.7h2v2h-2zM217.6 204.4h2v2h-2zM217.7 188.9h2v2h-2zM217.7 188.9h2v2h-2zM218.1 180.8h2v2h-2zM218.4 201.6h2v2h-2zM218.4 192.6h2v2h-2zM218.4 187.3h2v2h-2zM218.7 192.8h2v2h-2zM219.1 188.6h2v2h-2zM219.4 188.9h2v2h-2zM219.6 190.4h2v2h-2zM220.1 188.6h2v2h-2zM220.2 192h2v2h-2zM220.3 190.5h2v2h-2zM220.3 188.8h2v2h-2zM220.4 183.2h2v2h-2zM220.6 184h2v2h-2zM220.6 187.1h2v2h-2zM221.8 186.4h2v2h-2zM222.2 188.5h2v2h-2zM222.3 188.3h2v2h-2zM222.4 193.9h2v2h-2zM222.5 197.2h2v2h-2zM223.8 185.3h2v2h-2zM223.9 186.5h2v2h-2zM224 190.8h2v2h-2zM224.1 192.4h2v2h-2zM224.5 191.9h2v2h-2zM224.9 194.2h2v2h-2zM224.9 202.3h2v2h-2zM225.1 190.5h2v2h-2zM225.4 188.9h2v2h-2zM225.5 185.2h2v2h-2zM225.8 190.8h2v2h-2zM225.9 195h2v2h-2zM226 211.8h2v2h-2zM226.2 190.7h2v2h-2zM226.3 191.8h2v2h-2zM226.4 194.8h2v2h-2zM226.4 191.7h2v2h-2zM226.8 185h2v2h-2zM226.8 192.8h2v2h-2zM227.4 194.1h2v2h-2zM227.9 190.8h2v2h-2zM228.2 194.7h2v2h-2zM228.6 192.4h2v2h-2zM228.7 186.2h2v2h-2zM228.9 190.7h2v2h-2zM229 192.3h2v2h-2zM229 204.7h2v2h-2zM229.4 194.9h2v2h-2zM229.6 202.2h2v2h-2zM229.9 204.5h2v2h-2zM230 186.3h2v2h-2zM230.2 199h2v2h-2zM230.4 190.9h2v2h-2zM230.7 190.4h2v2h-2zM230.7 190.1h2v2h-2zM230.8 186.4h2v2h-2zM230.8 204.6h2v2h-2zM230.8 194.5h2v2h-2zM230.9 194.2h2v2h-2zM231 205.1h2v2h-2zM231.4 187.9h2v2h-2zM231.7 194.2h2v2h-2zM231.7 192h2v2h-2zM232.2 194h2v2h-2zM232.4 194.5h2v2h-2zM232.7 194.1h2v2h-2zM232.9 197.3h2v2h-2zM233.5 197.2h2v2h-2zM233.6 196.9h2v2h-2zM234.2 190.6h2v2h-2zM234.2 192h2v2h-2zM234.3 196.2h2v2h-2zM234.8 194.2h2v2h-2zM234.9 196.8h2v2h-2zM235.1 192.6h2v2h-2zM235.1 194.9h2v2h-2zM235.2 190.8h2v2h-2zM236.1 194.6h2v2h-2zM236.3 188.6h2v2h-2zM236.3 190.6h2v2h-2zM236.5 194.3h2v2h-2zM236.6 190.5h2v2h-2zM236.8 190.1h2v2h-2zM237 208.5h2v2h-2zM237.1 190.3h2v2h-2zM237.2 188.9h2v2h-2zM237.3 192.9h2v2h-2zM237.4 199.1h2v2h-2zM237.6 188.1h2v2h-2zM238 199.4h2v2h-2zM238.6 194.4h2v2h-2zM238.8 198.7h2v2h-2zM238.9 191.8h2v2h-2zM239.3 191.7h2v2h-2zM239.6 199.4h2v2h-2zM239.6 197h2v2h-2zM240.2 208h2v2h-2zM240.2 184.9h2v2h-2zM240.3 192.1h2v2h-2zM241.5 187.9h2v2h-2zM242.1 197.2h2v2h-2zM242.3 193.9h2v2h-2zM242.4 194.9h2v2h-2zM242.4 194.7h2v2h-2zM242.4 196.8h2v2h-2zM242.7 190.7h2v2h-2zM242.9 199.5h2v2h-2zM243.5 192.9h2v2h-2zM243.8 189.1h2v2h-2zM243.9 197.1h2v2h-2zM244 201.7h2v2h-2zM244.2 192.2h2v2h-2zM244.4 196.5h2v2h-2zM244.7 201.9h2v2h-2zM244.7 192.1h2v2h-2zM245.1 199.6h2v2h-2zM245.2 212.6h2v2h-2zM245.4 189.9h2v2h-2zM245.6 196.4h2v2h-2zM245.7 196.4h2v2h-2zM245.8 189.8h2v2h-2zM245.8 188.1h2v2h-2zM246.6 202.4h2v2h-2zM246.7 192.2h2v2h-2zM246.8 204.5h2v2h-2zM247 192.1h2v2h-2zM247.1 205.3h2v2h-2zM247.5 208.5h2v2h-2zM247.7 197.1h2v2h-2zM247.9 202.2h2v2h-2zM247.9 194.4h2v2h-2zM248.4 202.2h2v2h-2zM248.8 197.2h2v2h-2zM248.8 191.9h2v2h-2zM248.9 192.3h2v2h-2zM249 212.6h2v2h-2zM249 196.6h2v2h-2zM249.2 197h2v2h-2zM249.2 194.3h2v2h-2zM249.5 190.2h2v2h-2zM250.1 194.9h2v2h-2zM250.2 194.4h2v2h-2zM250.7 199.2h2v2h-2zM251.1 208h2v2h-2zM251.1 196.2h2v2h-2zM251.1 199.5h2v2h-2zM251.2 196.6h2v2h-2zM251.3 202.1h2v2h-2zM251.6 212.6h2v2h-2zM251.8 211.6h2v2h-2zM251.8 208.1h2v2h-2zM251.8 188.9h2v2h-2zM252.1 202.1h2v2h-2zM252.4 201.4h2v2h-2zM252.5 194.2h2v2h-2zM252.5 197.3h2v2h-2zM252.6 189.8h2v2h-2zM252.9 194.3h2v2h-2zM253.2 202.1h2v2h-2zM253.4 191.9h2v2h-2zM253.4 199.7h2v2h-2zM253.4 193.9h2v2h-2zM253.6 188.2h2v2h-2zM253.8 199h2v2h-2zM254.4 201.6h2v2h-2zM254.4 196.2h2v2h-2zM254.5 196.5h2v2h-2zM254.6 188h2v2h-2zM255.2 205.2h2v2h-2zM255.2 202.5h2v2h-2zM255.4 202.5h2v2h-2zM255.5 196.7h2v2h-2zM255.9 208.1h2v2h-2zM256.4 196.7h2v2h-2zM256.5 211.9h2v2h-2zM256.6 192h2v2h-2zM256.7 199.2h2v2h-2zM256.7 196.3h2v2h-2zM256.9 197.2h2v2h-2zM256.9 204.7h2v2h-2zM257.2 194.6h2v2h-2zM257.4 190.8h2v2h-2zM257.6 196.7h2v2h-2zM257.8 196.8h2v2h-2zM257.9 202.5h2v2h-2zM257.9 196.6h2v2h-2zM258.1 192.8h2v2h-2zM258.5 194.5h2v2h-2zM258.7 194.8h2v2h-2zM259.2 205.4h2v2h-2zM259.7 196.8h2v2h-2zM260.4 199h2v2h-2zM260.4 212.1h2v2h-2zM260.8 199.5h2v2h-2zM261.1 194.4h2v2h-2zM261.2 212.2h2v2h-2zM261.6 196.6h2v2h-2zM261.7 196.4h2v2h-2zM261.8 196.9h2v2h-2zM262.2 199h2v2h-2zM262.5 208.4h2v2h-2zM262.7 199.6h2v2h-2zM262.7 196.8h2v2h-2zM262.9 202.4h2v2h-2zM263.1 201.7h2v2h-2zM263.2 196.9h2v2h-2zM263.4 208.6h2v2h-2zM263.4 204.5h2v2h-2zM263.7 202.3h2v2h-2zM264 197.3h2v2h-2zM264.1 196.2h2v2h-2zM264.1 216.7h2v2h-2zM265 201.5h2v2h-2zM265 196.6h2v2h-2zM265.4 211.5h2v2h-2zM265.4 199.1h2v2h-2zM265.5 205.5h2v2h-2zM265.6 197h2v2h-2zM265.7 202.5h2v2h-2zM265.8 204.7h2v2h-2zM266.5 201.5h2v2h-2zM266.7 216.3h2v2h-2zM267 216.3h2v2h-2zM267.1 199.1h2v2h-2zM267.1 196.6h2v2h-2zM267.2 199.6h2v2h-2zM267.2 196.6h2v2h-2zM267.4 202.1h2v2h-2zM267.6 208.1h2v2h-2zM267.7 204.6h2v2h-2zM267.8 201.6h2v2h-2zM267.9 201.7h2v2h-2zM268.1 207.8h2v2h-2zM268.1 194.9h2v2h-2zM268.4 199.5h2v2h-2zM268.8 202h2v2h-2zM269 197.2h2v2h-2zM269.4 212.5h2v2h-2zM269.6 201.8h2v2h-2zM269.7 204.6h2v2h-2zM269.9 201.5h2v2h-2zM270.6 198.9h2v2h-2zM270.7 198.8h2v2h-2zM270.7 192.7h2v2h-2zM270.7 201.4h2v2h-2zM270.9 222.1h2v2h-2zM271 199.6h2v2h-2zM271.3 197.2h2v2h-2zM271.6 199.8h2v2h-2zM271.8 194.4h2v2h-2zM271.8 216.9h2v2h-2zM271.9 201.4h2v2h-2zM271.9 205h2v2h-2zM271.9 202.3h2v2h-2zM272.3 204.9h2v2h-2zM272.4 196.8h2v2h-2zM272.4 196.6h2v2h-2zM272.5 199.2h2v2h-2zM272.5 207.7h2v2h-2zM272.7 204.5h2v2h-2zM273 201.4h2v2h-2zM273 208.8h2v2h-2zM273.1 197.3h2v2h-2zM273.2 199.1h2v2h-2zM274.1 198.8h2v2h-2zM274.1 201.8h2v2h-2zM274.3 205.2h2v2h-2zM274.4 202.4h2v2h-2zM274.5 208h2v2h-2zM274.7 204.4h2v2h-2zM274.8 205.5h2v2h-2zM274.9 208.3h2v2h-2zM275.2 205.5h2v2h-2zM275.5 201.6h2v2h-2zM276.8 199.4h2v2h-2zM276.9 199.6h2v2h-2zM277 201.4h2v2h-2zM277.2 201.9h2v2h-2zM277.5 194.3h2v2h-2zM277.5 216.9h2v2h-2zM277.5 201.4h2v2h-2zM277.7 201.8h2v2h-2zM277.7 208.6h2v2h-2zM277.9 204.7h2v2h-2zM278.1 188.1h2v2h-2zM278.1 207.9h2v2h-2zM278.3 197h2v2h-2zM279.1 198.7h2v2h-2zM279.1 201.8h2v2h-2zM279.2 208.1h2v2h-2zM279.2 201.9h2v2h-2zM279.4 216.7h2v2h-2zM279.8 202.2h2v2h-2zM279.8 205h2v2h-2zM279.9 204.6h2v2h-2zM280.3 199.7h2v2h-2zM280.5 204.9h2v2h-2zM280.6 208.2h2v2h-2zM280.8 194.2h2v2h-2zM281.5 208.4h2v2h-2zM281.5 204.8h2v2h-2zM281.7 205.2h2v2h-2zM282 194.6h2v2h-2zM282.1 199.2h2v2h-2zM282.2 208.6h2v2h-2zM282.3 196.5h2v2h-2zM282.3 205.3h2v2h-2zM282.4 197.1h2v2h-2zM282.6 201.4h2v2h-2zM282.6 212.1h2v2h-2zM282.8 212.1h2v2h-2zM283 201.9h2v2h-2zM283.1 194.4h2v2h-2zM283.3 205.3h2v2h-2zM283.5 196.3h2v2h-2zM283.6 196.8h2v2h-2zM283.9 196.9h2v2h-2zM284.5 201.6h2v2h-2zM284.6 208.5h2v2h-2zM284.6 205.5h2v2h-2zM285 205.1h2v2h-2zM287.3 208.7h2v2h-2zM287.6 198.6h2v2h-2zM287.6 199.5h2v2h-2zM288.1 204.7h2v2h-2zM288.1 202.3h2v2h-2zM288.2 217.1h2v2h-2zM288.3 202h2v2h-2zM288.4 202.4h2v2h-2zM288.7 201.7h2v2h-2zM290.4 208.1h2v2h-2zM290.4 201.7h2v2h-2zM290.5 201.7h2v2h-2zM290.6 202.1h2v2h-2zM291.1 201.9h2v2h-2zM291.9 222.3h2v2h-2zM292 202.1h2v2h-2zM292.2 222.3h2v2h-2zM292.3 205.3h2v2h-2zM292.3 202.2h2v2h-2zM292.7 205.2h2v2h-2zM292.8 208h2v2h-2zM293.2 204.4h2v2h-2zM293.3 212.1h2v2h-2zM293.5 216h2v2h-2zM293.6 205h2v2h-2zM293.6 212.5h2v2h-2zM293.7 212.6h2v2h-2zM293.8 216.7h2v2h-2zM294.4 201.9h2v2h-2zM295 204.8h2v2h-2zM295.1 205.2h2v2h-2zM295.2 205.5h2v2h-2zM295.4 198.6h2v2h-2zM295.5 216.6h2v2h-2zM296.2 205.1h2v2h-2zM296.2 227.9h2v2h-2zM296.5 208.1h2v2h-2zM296.9 205.2h2v2h-2zM297 202h2v2h-2zM297.2 222h2v2h-2zM297.4 208.1h2v2h-2zM297.8 216.6h2v2h-2zM298 212.2h2v2h-2zM298.1 207.9h2v2h-2zM298.2 205.2h2v2h-2zM298.2 211.9h2v2h-2zM298.2 204.8h2v2h-2zM299 208.3h2v2h-2zM299.2 208.4h2v2h-2zM299.2 221.7h2v2h-2zM299.3 212h2v2h-2zM299.5 205.5h2v2h-2zM299.6 207.9h2v2h-2zM299.7 208.7h2v2h-2zM299.8 228.3h2v2h-2zM300 201.6h2v2h-2zM300.1 208.2h2v2h-2zM300.2 205.1h2v2h-2zM300.4 216.2h2v2h-2zM300.4 212.1h2v2h-2zM300.4 212.5h2v2h-2zM300.5 211.9h2v2h-2zM300.5 208.5h2v2h-2zM300.8 211.9h2v2h-2zM301.4 208.2h2v2h-2zM301.5 208.6h2v2h-2zM301.6 211.6h2v2h-2zM301.8 212.3h2v2h-2zM301.9 208.8h2v2h-2zM302 217.1h2v2h-2zM302.1 204.4h2v2h-2zM302.2 211.5h2v2h-2zM302.5 205.3h2v2h-2zM302.5 216.5h2v2h-2zM303.2 204.4h2v2h-2zM303.4 216.5h2v2h-2zM303.5 202.4h2v2h-2zM303.6 211.6h2v2h-2zM303.7 204.8h2v2h-2zM304.2 211.9h2v2h-2zM304.6 202.1h2v2h-2zM304.8 212.5h2v2h-2zM305 208.2h2v2h-2zM305 212.1h2v2h-2zM305.1 208h2v2h-2zM305.4 212.4h2v2h-2zM305.5 201.7h2v2h-2zM305.5 228.1h2v2h-2zM306 221.2h2v2h-2zM306.8 204.9h2v2h-2zM307.1 228.2h2v2h-2zM307.2 208.4h2v2h-2zM307.3 216.8h2v2h-2zM307.8 212.2h2v2h-2zM307.9 207.8h2v2h-2zM308.5 201.6h2v2h-2zM308.9 207.8h2v2h-2zM309 207.9h2v2h-2zM309.7 204.7h2v2h-2zM310.9 202.2h2v2h-2zM311.4 208.7h2v2h-2zM311.4 202.1h2v2h-2zM311.5 198.8h2v2h-2zM312.1 217h2v2h-2zM312.9 221.2h2v2h-2zM313.2 201.5h2v2h-2zM313.3 208.7h2v2h-2zM313.3 208.8h2v2h-2zM313.7 208.2h2v2h-2zM313.7 205.1h2v2h-2zM314.7 208.7h2v2h-2zM315 208.2h2v2h-2zM315.3 216.4h2v2h-2zM315.9 221.3h2v2h-2zM316 216.7h2v2h-2zM316.1 216.5h2v2h-2zM316.1 228h2v2h-2zM316.3 207.7h2v2h-2zM316.3 212.5h2v2h-2zM316.8 212.1h2v2h-2zM317.1 216.3h2v2h-2zM317.5 208.5h2v2h-2zM317.5 208.4h2v2h-2zM318.3 208h2v2h-2zM318.5 212.6h2v2h-2zM318.6 208.1h2v2h-2zM319 212.4h2v2h-2zM319 212.1h2v2h-2zM319.2 228.4h2v2h-2zM319.2 227.8h2v2h-2zM319.4 212.5h2v2h-2zM319.4 216.9h2v2h-2zM319.8 216.2h2v2h-2zM320.1 222h2v2h-2zM320.2 204.9h2v2h-2zM320.6 216.5h2v2h-2zM320.6 204.4h2v2h-2zM321.3 217h2v2h-2zM321.4 212.1h2v2h-2zM321.5 207.9h2v2h-2zM321.7 216.2h2v2h-2zM321.8 208.9h2v2h-2zM322.1 222.3h2v2h-2zM322.1 202h2v2h-2zM322.2 216.9h2v2h-2zM322.3 211.6h2v2h-2zM323.1 221.5h2v2h-2zM323.1 204.7h2v2h-2zM323.1 207.9h2v2h-2zM323.1 208.9h2v2h-2zM323.3 199.8h2v2h-2zM323.7 208.6h2v2h-2zM323.8 216.4h2v2h-2zM323.9 212.2h2v2h-2zM324.1 205.5h2v2h-2zM324.5 212h2v2h-2zM324.7 202.1h2v2h-2zM324.7 208.6h2v2h-2zM324.9 208.8h2v2h-2zM326.1 205.3h2v2h-2zM326.7 211.7h2v2h-2zM326.8 228.7h2v2h-2zM327.1 208.7h2v2h-2zM327.3 212.1h2v2h-2zM328.1 222.3h2v2h-2zM328.2 222h2v2h-2zM328.3 211.9h2v2h-2zM328.5 207.7h2v2h-2zM328.9 212.2h2v2h-2zM329.1 205.5h2v2h-2zM329.6 212.3h2v2h-2zM329.6 216.5h2v2h-2zM330 212.3h2v2h-2zM330.1 228.1h2v2h-2zM330.4 212.7h2v2h-2zM330.7 212.2h2v2h-2zM330.7 212.4h2v2h-2zM330.8 212.2h2v2h-2zM330.9 221.6h2v2h-2zM330.9 221.8h2v2h-2zM331.4 204.9h2v2h-2zM331.7 205.1h2v2h-2zM332.4 216.1h2v2h-2zM332.5 227.8h2v2h-2zM332.6 216h2v2h-2zM334.4 227.8h2v2h-2zM334.5 221.6h2v2h-2zM334.5 208.2h2v2h-2zM334.7 208.7h2v2h-2zM335.4 221.5h2v2h-2zM335.4 205.2h2v2h-2zM335.4 216.9h2v2h-2zM335.8 211.9h2v2h-2zM336 201.7h2v2h-2zM336.2 217h2v2h-2zM336.6 228.3h2v2h-2zM336.8 208.6h2v2h-2zM337.3 227.9h2v2h-2zM338.1 221.9h2v2h-2zM338.2 208.5h2v2h-2zM338.6 216.1h2v2h-2zM338.8 212.1h2v2h-2zM339 212.2h2v2h-2zM339.1 216.9h2v2h-2zM339.3 212.3h2v2h-2zM339.9 212.4h2v2h-2zM340.4 211.6h2v2h-2zM340.5 216.7h2v2h-2zM340.8 228.3h2v2h-2zM340.9 216.4h2v2h-2zM341.5 216.7h2v2h-2zM342.3 221.6h2v2h-2zM342.5 208.1h2v2h-2zM342.6 212.2h2v2h-2zM342.8 222h2v2h-2zM343.2 211.6h2v2h-2zM343.3 208.8h2v2h-2zM343.4 212.1h2v2h-2zM343.4 216.4h2v2h-2zM343.5 211.6h2v2h-2zM343.5 212.2h2v2h-2zM343.6 216.9h2v2h-2zM343.7 222.3h2v2h-2zM57 97.3h2v2h-2zM57 98.8h2v2h-2zM57.7 100.5h2v2h-2zM58.6 101.1h2v2h-2zM60.5 102.5h2v2h-2zM61 102.7h2v2h-2zM61 102.7h2v2h-2zM61.7 104.4h2v2h-2zM62.4 105.9h2v2h-2zM63.6 104.7h2v2h-2zM63.9 107.5h2v2h-2zM64.8 107.9h2v2h-2zM64.5 108.7h2v2h-2zM67 109.6h2v2h-2zM67.6 109.4h2v2h-2zM66.3 110h2v2h-2zM68.9 112.3h2v2h-2zM69.5 112.4h2v2h-2zM70.2 112.5h2v2h-2zM70.5 113.8h2v2h-2zM70.5 116.1h2v2h-2zM72.2 116.3h2v2h-2zM71.9 118.4h2v2h-2zM73.7 117.7h2v2h-2zM73.7 119h2v2h-2zM75 120.4h2v2h-2zM75.3 121.1h2v2h-2zM75.2 122.8h2v2h-2zM76.7 121h2v2h-2zM76.8 123.9h2v2h-2zM77.3 123.9h2v2h-2zM78.1 125.8h2v2h-2zM78.6 126.7h2v2h-2zM81.3 128h2v2h-2zM81.9 128h2v2h-2zM83 129.1h2v2h-2zM83.7 129.1h2v2h-2zM85 130.4h2v2h-2zM84.9 132.6h2v2h-2zM85.9 132.3h2v2h-2zM86.7 134.5h2v2h-2zM88.7 135h2v2h-2zM88.3 135.1h2v2h-2zM90.3 136.9h2v2h-2zM90.2 136.6h2v2h-2zM92.3 138.9h2v2h-2zM92.8 138h2v2h-2zM95 139.9h2v2h-2zM95.4 139.1h2v2h-2zM95.9 141.5h2v2h-2zM98.1 141.8h2v2h-2zM98.1 142.1h2v2h-2zM100.4 144.6h2v2h-2zM101.2 143.8h2v2h-2zM100.5 146h2v2h-2z"/></g>
<path d="M47.2 109 L47.5 90 L47.9 64 L48.3 56 L49.2 47.3 L49.8 38.7 L50.5 30 L51.6 21.3 L52.7 12.7 L54 8 L55.3 5.8 L56.6 5.2 L56.6 5.2 L58.9 8.8 L61.2 16.6 L63.5 24.5 L65.8 33.7 L68.1 42.9 L70.4 50.5 L72.7 58 L75 65.2 L77.3 72.2 L79.6 79.2 L81.9 84.6 L84.2 89.1 L86.5 93.3 L88.8 97 L91.1 100.7 L93.4 103.3 L95.7 105.9 L98 108.7 L100.3 111.3 L102.6 113.9 L104.9 116.4 L107.2 118.7 L109.5 121 L111.8 123.5 L114.1 124.6 L116.4 126.5 L118.7 128.3 L121 131.5 L123.3 131 L125.6 135.8 L127.9 136.6 L130.2 135.4 L132.5 139.6 L134.8 137.9 L137.1 144.1 L139.4 140.7 L141.7 142.3 L144 145.3 L146.3 147 L148.6 144.5 L150.9 151.3 L153.2 143.8 L155.5 149.9 L157.8 150 L160.1 153.1 L162.4 149.3 L164.7 157.7 L167 153.5 L169.3 156.2 L171.6 153.8 L173.9 151.6 L176.2 158.4 L178.5 157.6 L180.8 161.7 L183.1 158.8 L185.4 165.9 L187.7 160 L190 167.3 L192.3 161.4 L194.6 162.1 L196.9 169.7 L199.2 163.8 L201.5 170.4 L203.8 166.4 L206.1 172.4 L208.4 170.2 L210.7 174 L213 169 L215.3 171.4 L217.6 178 L219.9 173.4 L222.2 180.2 L224.5 171 L226.8 182 L229.1 174.8 L231.4 185.6 L233.7 179 L236 185.7 L238.3 178.7 L240.6 185.2 L242.9 183.1 L245.2 189.1 L247.5 183 L249.8 190.3 L252.1 183 L254.4 190.2 L256.7 183.9 L259 192 L261.3 186 L263.6 192.9 L265.9 187.1 L268.2 196.4 L270.5 189 L272.8 194.9 L275.1 195.5 L277.4 191.7 L279.7 201.5 L282 192.1 L284.3 201.1 L286.6 193.1 L288.9 200.7 L291.2 203.5 L293.5 198.9 L295.8 205.2 L298.1 199 L300.4 205.5 L302.7 210.2 L305 201.3 L307.3 209.4 L309.6 201.6 L311.9 212.7 L314.2 205 L316.5 212.2 L318.8 203 L321.1 205.3 L323.4 214 L325.7 209.2 L328 214.9 L330.3 207.3 L332.6 204.1 L334.9 218.3 L337.2 208.8 L339.5 218.1 L341.8 208 L344.1 220.3" fill="none" stroke="#ff0000" stroke-width="1.5" stroke-linejoin="round"/>
<path d="M47.2 177 L47.4 162 L47.8 146 L48.6 130 L49.6 120 L51 110 L52.5 103 L54.1 99.6 L54.1 99.6 L55.8 99.6 L57.5 99.9 L59.2 100.5 L60.9 101.4 L62.6 102.5 L64.3 103.8 L66 105.2 L67.7 106.7 L69.4 108.3 L71.1 110.4 L72.8 112.9 L74.5 115.2 L76.2 117.6 L77.9 119.8 L79.6 121.8 L81.3 123.8 L83 126 L84.7 128.4 L86.4 130.9 L88.1 133.4 L89.8 135.8 L91.5 138 L93.2 139.7 L94.9 141.2 L96.6 143.1 L98.3 143.6 L100 146.6 L101.7 146.5 L103.4 148.9 L105.1 148.3 L106.8 149.9 L108.5 152 L110.2 151.2 L111.9 154.3 L113.6 154 L115.3 158.1 L117 156 L118.7 156.8 L120.4 157.6 L122.1 157.7 L123.8 161.7 L125.5 158.2 L127.2 164.7 L128.9 160.2 L130.6 165 L132.3 162.4 L134 166.3 L135.7 165.1 L137.4 169.3 L139.1 164.2 L140.8 169.4 L142.5 165.9 L144.2 173 L145.9 168.6 L147.6 172.8 L149.3 170.4 L151 175.1 L152.7 172.3 L154.4 175.8 L156.1 172.7 L157.8 175.9 L159.5 171.1 L161.2 178.9 L162.9 173.9 L164.6 178.2 L166.3 175.9 L168 180.3 L169.7 178.3 L171.4 180.9 L173.1 176.4 L174.8 185.6 L176.5 182 L178.2 187.7 L179.9 180.2 L181.6 185.8 L183.3 189 L185 187.4 L186.7 190.8 L188.4 184.3 L190.1 190.8 L191.8 191.8 L193.5 184.4 L195.2 193.8 L196.9 194.2 L198.6 191.3 L200.3 184.7 L202 196.9 L203.7 194.7 L205.4 192.2 L207.1 190 L208.8 199.3 L210.5 203.3 L212.2 197.3 L213.9 190.8 L215.6 200 L217.3 191.3 L219 193.7 L220.7 198.6 L222.4 204 L224.1 195.5 L225.8 210.8 L227.5 204.7 L229.2 203.3 L230.9 208.8 L232.6 198.5 L234.3 208.3 L236 210.6 L237.7 199.1 L239.4 204.3 L241.1 196 L242.8 213.3 L244.5 202.9 L246.2 206 L247.9 213.9 L249.6 199.4 L251.3 200.6 L253 213.7 L254.7 205.9 L256.4 216.9 L258.1 203.9 L259.8 219.6 L261.5 207.3 L263.2 216.5 L264.9 203.8 L266.6 220.3 L268.3 209.9 L270 216.3 L271.7 207.3 L273.4 215.5 L275.1 209.7 L276.8 218.8 L278.5 210.4 L280.2 223.4 L281.9 214.8 L283.6 225.7 L285.3 215.4 L287 219.1 L288.7 212.5 L290.4 231.1 L292.1 215 L293.8 225.7 L295.5 211.8 L297.2 232.7 L298.9 219.9 L300.6 234.8 L302.3 221.6 L304 234.3 L305.7 238.6 L307.4 221.7 L309.1 230.4 L310.8 224.9 L312.5 238.2 L314.2 227.1 L315.9 235.1 L317.6 237 L319.3 225.6 L321 229.2 L322.7 242.6 L324.4 223.8 L326.1 223.4 L327.8 238.1 L329.5 233.4 L331.2 240.4 L332.9 231.1 L334.6 237.1 L336.3 226.3 L338 238.3 L339.7 231.5 L341.4 248.4 L343.1 238.8 L344.8 230" fill="none" stroke="#00ff00" stroke-width="1.5" stroke-linejoin="round"/>
</g>
<path d="M75.8 241V238 M75.8 0V3 M105.6 241V236 M105.6 0V5 M135.4 241V238 M135.4 0V3 M165.2 241V236 M165.2 0V5 M195 241V238 M195 0V3 M224.9 241V236 M224.9 0V5 M254.7 241V238 M254.7 0V3 M284.5 241V236 M284.5 0V5 M314.3 241V238 M314.3 0V3 M46 235.9H49 M344 235.9H341 M46 231.5H49 M344 231.5H341 M46 227.7H49 M344 227.7H341 M46 224.3H49 M344 224.3H341 M46 221.3H51 M344 221.3H339 M46 201.5H49 M344 201.5H341 M46 189.9H49 M344 189.9H341 M46 181.6H49 M344 181.6H341 M46 175.2H49 M344 175.2H341 M46 170H49 M344 170H341 M46 165.6H49 M344 165.6H341 M46 161.8H49 M344 161.8H341 M46 158.4H49 M344 158.4H341 M46 155.4H51 M344 155.4H339 M46 135.6H49 M344 135.6H341 M46 124H49 M344 124H341 M46 115.7H49 M344 115.7H341 M46 109.3H49 M344 109.3H341 M46 104.1H49 M344 104.1H341 M46 99.7H49 M344 99.7H341 M46 95.9H49 M344 95.9H341 M46 92.5H49 M344 92.5H341 M46 89.5H51 M344 89.5H339 M46 69.7H49 M344 69.7H341 M46 58.1H49 M344 58.1H341 M46 49.8H49 M344 49.8H341 M46 43.4H49 M344 43.4H341 M46 38.2H49 M344 38.2H341 M46 33.8H49 M344 33.8H341 M46 30H49 M344 30H341 M46 26.6H49 M344 26.6H341 M46 23.6H51 M344 23.6H339 M46 3.8H49 M344 3.8H341" stroke="#000" stroke-width="1" fill="none"/>
<rect x="46.5" y="0.5" width="297.5" height="240.5" fill="none" stroke="#000" stroke-width="1"/>


<rect x="127" y="33.4" width="203.6" height="85.6" fill="#fff" stroke="#b0b0b0" stroke-width="1.5"/>
<rect x="141.5" y="42.3" width="2" height="2" fill="#000"/>
<rect x="141.3" y="59.6" width="2" height="2" fill="#808000"/>
<path d="M128 77.9H157" stroke="#ff0000" stroke-width="1.3"/>
<path d="M128 95.1H157" stroke="#00ff00" stroke-width="1.3"/>
<g font-family="Liberation Serif" font-weight="bold" font-size="13" fill="#000">
<text transform="translate(160.4 48.3) scale(0.96 1)">Exp. 180 keV,<tspan x="83.1">1 × 10</tspan><tspan dy="-4.5" font-size="8.5">15</tspan><tspan dy="4.5"> ions/cm</tspan><tspan dy="-4.5" font-size="8.5">2</tspan></text>
<text transform="translate(188 64.8) scale(0.96 1)">180 keV,<tspan x="54.2">1 × 10</tspan><tspan dy="-4.5" font-size="8.5">14</tspan><tspan dy="4.5"> ions/cm</tspan><tspan dy="-4.5" font-size="8.5">2</tspan></text>
<text transform="translate(160 82.5) scale(0.96 1)">Simulation 1 × 10<tspan dy="-4.5" font-size="8.5">15</tspan><tspan dy="4.5"> ions/cm</tspan><tspan dy="-4.5" font-size="8.5">2</tspan></text>
<text transform="translate(222.4 99.7) scale(0.96 1)">1 × 10<tspan dy="-4.5" font-size="8.5">14</tspan><tspan dy="4.5"> ions/cm</tspan><tspan dy="-4.5" font-size="8.5">2</tspan></text>
</g>


<g font-family="Liberation Serif" font-weight="bold" font-size="13.5" fill="#000">
<text transform="translate(46 256.7) scale(0.91 1)" text-anchor="middle">0</text><text transform="translate(105.6 256.7) scale(0.91 1)" text-anchor="middle">2</text><text transform="translate(165.2 256.7) scale(0.91 1)" text-anchor="middle">4</text><text transform="translate(224.9 256.7) scale(0.91 1)" text-anchor="middle">6</text><text transform="translate(284.5 256.7) scale(0.91 1)" text-anchor="middle">8</text><text transform="translate(344.1 256.7) scale(0.91 1)" text-anchor="middle">10</text>
<text transform="translate(19.3 226.7) scale(0.91 1)">10<tspan dx="0.9" dy="-4.9" font-size="9.6">16</tspan></text><text transform="translate(19.3 160.8) scale(0.91 1)">10<tspan dx="0.9" dy="-4.9" font-size="9.6">17</tspan></text><text transform="translate(19.3 94.9) scale(0.91 1)">10<tspan dx="0.9" dy="-4.9" font-size="9.6">18</tspan></text><text transform="translate(19.3 29) scale(0.91 1)">10<tspan dx="0.9" dy="-4.9" font-size="9.6">19</tspan></text>
<text x="155.7" y="273.6" font-size="14.6">Depth (µm)</text>
<text transform="translate(12.85 231.4) rotate(-90)" font-size="14.85">Concentration of <tspan dy="-5.5" font-size="9.5">24</tspan><tspan dy="5.5">Mg (atoms/cm</tspan><tspan dy="-5.5" font-size="9.5">3</tspan><tspan dy="5.5">)</tspan></text>
</g>

</svg>
</body></html>
